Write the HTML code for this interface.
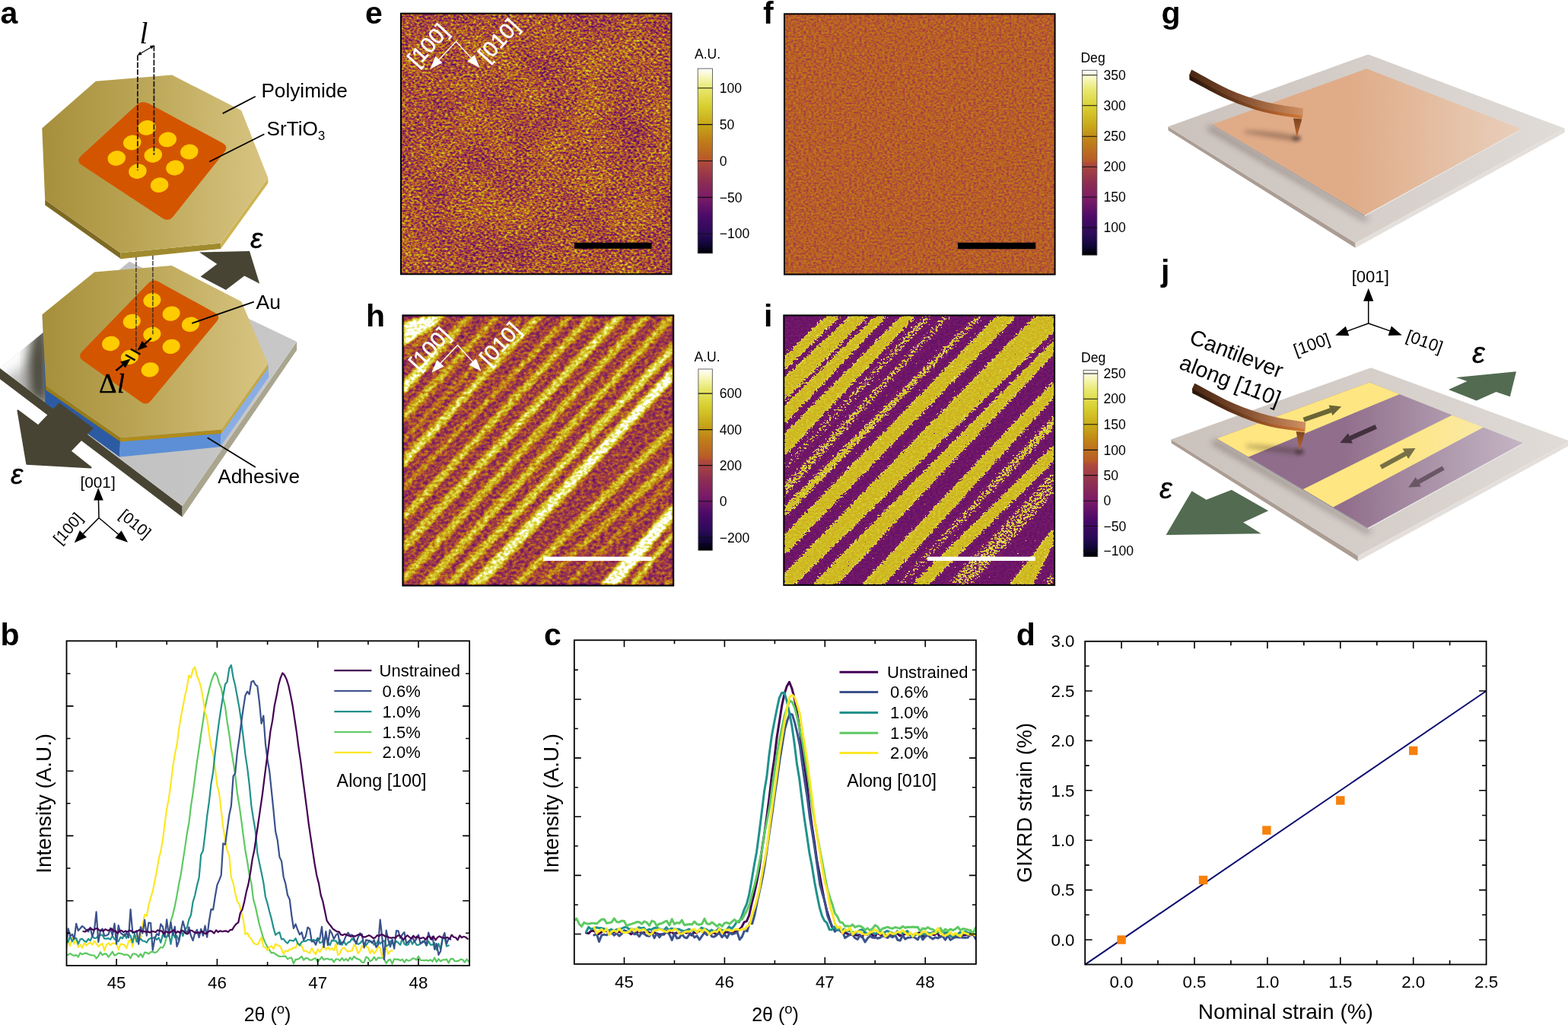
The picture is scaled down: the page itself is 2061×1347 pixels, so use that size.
<!DOCTYPE html>
<html lang="en">
<head>
<meta charset="utf-8">
<title>Figure</title>
<style>
html,body{margin:0;padding:0;background:#fff;}
body{width:2061px;height:1347px;overflow:hidden;font-family:"Liberation Sans",Arial,Helvetica,sans-serif;}
svg{display:block;}
text{fill:#000;}
</style>
</head>
<body>
<svg width="2061" height="1347" viewBox="0 0 2061 1347">
<rect width="2061" height="1347" fill="#fff"/>
<filter id="fe" x="0" y="0" width="100%" height="100%" filterUnits="objectBoundingBox" color-interpolation-filters="sRGB"><feTurbulence type="fractalNoise" baseFrequency="0.27 0.38" numOctaves="2" seed="7"/><feColorMatrix type="matrix" values="1 0 0 0 0  1 0 0 0 0  1 0 0 0 0  0 0 0 0 1" result="a"/><feTurbulence type="fractalNoise" baseFrequency="0.02 0.02" numOctaves="2" seed="18"/><feColorMatrix type="matrix" values="1 0 0 0 0  1 0 0 0 0  1 0 0 0 0  0 0 0 0 1" result="b"/><feComposite in="a" in2="b" operator="arithmetic" k1="0" k2="1.0" k3="0.2" k4="-0.1"/><feComponentTransfer><feFuncR type="table" tableValues="0.000 0.020 0.039 0.059 0.086 0.115 0.144 0.170 0.191 0.212 0.232 0.253 0.274 0.296 0.325 0.355 0.384 0.414 0.443 0.473 0.489 0.503 0.516 0.530 0.543 0.557 0.573 0.594 0.614 0.635 0.656 0.676 0.701 0.723 0.728 0.733 0.737 0.742 0.747 0.751 0.757 0.762 0.768 0.774 0.780 0.786 0.796 0.806 0.816 0.825 0.835 0.845 0.855 0.866 0.876 0.887 0.897 0.908 0.922 0.937 0.952 0.967 0.978 0.989 1.000"/><feFuncG type="table" tableValues="0.000 0.007 0.015 0.022 0.027 0.032 0.036 0.039 0.039 0.039 0.039 0.039 0.039 0.041 0.051 0.061 0.071 0.080 0.090 0.100 0.113 0.126 0.140 0.153 0.167 0.180 0.195 0.212 0.228 0.245 0.262 0.279 0.311 0.361 0.383 0.405 0.427 0.450 0.472 0.494 0.520 0.549 0.578 0.607 0.636 0.664 0.688 0.713 0.737 0.762 0.786 0.811 0.828 0.844 0.859 0.875 0.891 0.906 0.922 0.937 0.952 0.967 0.978 0.989 1.000"/><feFuncB type="table" tableValues="0.000 0.069 0.137 0.206 0.248 0.284 0.319 0.348 0.358 0.369 0.379 0.389 0.400 0.408 0.408 0.408 0.408 0.408 0.408 0.408 0.396 0.381 0.367 0.352 0.337 0.323 0.309 0.296 0.283 0.270 0.257 0.244 0.209 0.154 0.144 0.135 0.125 0.116 0.107 0.097 0.094 0.094 0.094 0.094 0.094 0.097 0.112 0.126 0.141 0.156 0.171 0.185 0.222 0.263 0.305 0.347 0.388 0.430 0.501 0.580 0.659 0.739 0.826 0.913 1.000"/><feFuncA type="linear" slope="0" intercept="1"/></feComponentTransfer></filter>
<rect x="527" y="17.7" width="355.5" height="342.6" fill="#b4641e" filter="url(#fe)"/>
<rect x="527" y="17.7" width="355.5" height="342.6" fill="none" stroke="#000" stroke-width="2"/>
<rect x="755" y="318.8" width="101.6" height="8" fill="#000"/>
<path d="M573.3 82.2L599.5 54.5L622.6 79.9" stroke="#fff" stroke-width="1.3" fill="none"/>
<polygon points="565.3,90.7 572.5,74.1 581.5,82.6" fill="#fff"/>
<polygon points="630.6,88.9 614.5,80.6 623.7,72.2" fill="#fff"/>
<text transform="translate(548.3 89.3) rotate(-47.5)" font-family="Liberation Sans, Arial, Helvetica, sans-serif" font-size="28.6" style="fill:#fff;stroke:#fff;stroke-width:0.5">[100]</text>
<text transform="translate(641.1 82.9) rotate(-47.5)" font-family="Liberation Sans, Arial, Helvetica, sans-serif" font-size="28.6" style="fill:#fff;stroke:#fff;stroke-width:0.5">[010]</text>
<linearGradient id="cbe" x1="0" y1="0" x2="0" y2="1"><stop offset="0.000" stop-color="#ffffff"/><stop offset="0.050" stop-color="#f6f6b8"/><stop offset="0.106" stop-color="#e8e870"/><stop offset="0.200" stop-color="#d8d030"/><stop offset="0.300" stop-color="#c8a818"/><stop offset="0.385" stop-color="#c08018"/><stop offset="0.490" stop-color="#b85a28"/><stop offset="0.505" stop-color="#b04a3c"/><stop offset="0.600" stop-color="#903050"/><stop offset="0.700" stop-color="#7a1a68"/><stop offset="0.800" stop-color="#4a0a68"/><stop offset="0.895" stop-color="#2a0a58"/><stop offset="0.950" stop-color="#100638"/><stop offset="1.000" stop-color="#000000"/></linearGradient>
<rect x="917.2" y="90.1" width="19.3" height="242.8" fill="url(#cbe)" stroke="#444" stroke-width="0.8"/>
<path d="M917.2 115.7H936.5M917.2 163.6H936.5M917.2 211.5H936.5M917.2 259.4H936.5M917.2 307.2H936.5" stroke="#111" stroke-width="1.1" fill="none"/>
<text x="945.7" y="121.9" font-family="Liberation Sans, Arial, Helvetica, sans-serif" font-size="17.6">100</text>
<text x="945.7" y="169.8" font-family="Liberation Sans, Arial, Helvetica, sans-serif" font-size="17.6">50</text>
<text x="945.7" y="217.7" font-family="Liberation Sans, Arial, Helvetica, sans-serif" font-size="17.6">0</text>
<text x="945.7" y="265.6" font-family="Liberation Sans, Arial, Helvetica, sans-serif" font-size="17.6">−50</text>
<text x="945.7" y="313.4" font-family="Liberation Sans, Arial, Helvetica, sans-serif" font-size="17.6">−100</text>
<text x="913" y="76.7" font-family="Liberation Sans, Arial, Helvetica, sans-serif" font-size="17.6">A.U.</text>
<filter id="ff" x="0" y="0" width="100%" height="100%" filterUnits="objectBoundingBox" color-interpolation-filters="sRGB"><feTurbulence type="fractalNoise" baseFrequency="0.30 0.40" numOctaves="2" seed="13" result="n"/><feColorMatrix type="matrix" values="0.3 0 0 0 0.375  0.3 0 0 0 0.375  0.3 0 0 0 0.375  0 0 0 0 1"/><feComponentTransfer><feFuncR type="table" tableValues="0.000 0.020 0.039 0.059 0.086 0.115 0.144 0.170 0.191 0.212 0.232 0.253 0.274 0.296 0.325 0.355 0.384 0.414 0.443 0.473 0.489 0.503 0.516 0.530 0.543 0.557 0.573 0.594 0.614 0.635 0.656 0.676 0.701 0.723 0.728 0.733 0.737 0.742 0.747 0.751 0.757 0.762 0.768 0.774 0.780 0.786 0.796 0.806 0.816 0.825 0.835 0.845 0.855 0.866 0.876 0.887 0.897 0.908 0.922 0.937 0.952 0.967 0.978 0.989 1.000"/><feFuncG type="table" tableValues="0.000 0.007 0.015 0.022 0.027 0.032 0.036 0.039 0.039 0.039 0.039 0.039 0.039 0.041 0.051 0.061 0.071 0.080 0.090 0.100 0.113 0.126 0.140 0.153 0.167 0.180 0.195 0.212 0.228 0.245 0.262 0.279 0.311 0.361 0.383 0.405 0.427 0.450 0.472 0.494 0.520 0.549 0.578 0.607 0.636 0.664 0.688 0.713 0.737 0.762 0.786 0.811 0.828 0.844 0.859 0.875 0.891 0.906 0.922 0.937 0.952 0.967 0.978 0.989 1.000"/><feFuncB type="table" tableValues="0.000 0.069 0.137 0.206 0.248 0.284 0.319 0.348 0.358 0.369 0.379 0.389 0.400 0.408 0.408 0.408 0.408 0.408 0.408 0.408 0.396 0.381 0.367 0.352 0.337 0.323 0.309 0.296 0.283 0.270 0.257 0.244 0.209 0.154 0.144 0.135 0.125 0.116 0.107 0.097 0.094 0.094 0.094 0.094 0.094 0.097 0.112 0.126 0.141 0.156 0.171 0.185 0.222 0.263 0.305 0.347 0.388 0.430 0.501 0.580 0.659 0.739 0.826 0.913 1.000"/><feFuncA type="linear" slope="0" intercept="1"/></feComponentTransfer></filter>
<rect x="1031" y="18.3" width="355.5999999999999" height="342.3" fill="#b4641e" filter="url(#ff)"/>
<rect x="1031" y="18.3" width="355.5999999999999" height="342.3" fill="none" stroke="#000" stroke-width="2"/>
<rect x="1259" y="318.8" width="102.2" height="8.4" fill="#000"/>
<linearGradient id="cbf" x1="0" y1="0" x2="0" y2="1"><stop offset="0.000" stop-color="#ffffff"/><stop offset="0.050" stop-color="#f6f6b8"/><stop offset="0.106" stop-color="#e8e870"/><stop offset="0.200" stop-color="#d8d030"/><stop offset="0.300" stop-color="#c8a818"/><stop offset="0.385" stop-color="#c08018"/><stop offset="0.490" stop-color="#b85a28"/><stop offset="0.505" stop-color="#b04a3c"/><stop offset="0.600" stop-color="#903050"/><stop offset="0.700" stop-color="#7a1a68"/><stop offset="0.800" stop-color="#4a0a68"/><stop offset="0.895" stop-color="#2a0a58"/><stop offset="0.950" stop-color="#100638"/><stop offset="1.000" stop-color="#000000"/></linearGradient>
<rect x="1422.4" y="92.3" width="19.5" height="242.9" fill="url(#cbf)" stroke="#444" stroke-width="0.8"/>
<path d="M1422.4 98.8H1441.9M1422.4 138.8H1441.9M1422.4 179.2H1441.9M1422.4 219.2H1441.9M1422.4 259.0H1441.9M1422.4 299.1H1441.9" stroke="#111" stroke-width="1.1" fill="none"/>
<text x="1450.5" y="105.0" font-family="Liberation Sans, Arial, Helvetica, sans-serif" font-size="17.6">350</text>
<text x="1450.5" y="145.0" font-family="Liberation Sans, Arial, Helvetica, sans-serif" font-size="17.6">300</text>
<text x="1450.5" y="185.4" font-family="Liberation Sans, Arial, Helvetica, sans-serif" font-size="17.6">250</text>
<text x="1450.5" y="225.4" font-family="Liberation Sans, Arial, Helvetica, sans-serif" font-size="17.6">200</text>
<text x="1450.5" y="265.2" font-family="Liberation Sans, Arial, Helvetica, sans-serif" font-size="17.6">150</text>
<text x="1450.5" y="305.3" font-family="Liberation Sans, Arial, Helvetica, sans-serif" font-size="17.6">100</text>
<text x="1420.4" y="81.8" font-family="Liberation Sans, Arial, Helvetica, sans-serif" font-size="17.6">Deg</text>
<linearGradient id="gh2" gradientUnits="userSpaceOnUse" x1="529.4" y1="511.4" x2="618.4" y2="414.4"><stop offset="0" stop-color="#ffffff"/><stop offset="1" stop-color="#ababab"/></linearGradient><linearGradient id="gh3" gradientUnits="userSpaceOnUse" x1="529.4" y1="548.9" x2="654.9" y2="414.4"><stop offset="0" stop-color="#c7c7c7"/><stop offset="1" stop-color="#ababab"/></linearGradient><linearGradient id="gh5" gradientUnits="userSpaceOnUse" x1="529.4" y1="608.4" x2="709.4" y2="414.4"><stop offset="0" stop-color="#e0e0e0"/><stop offset="1" stop-color="#c7c7c7"/></linearGradient><linearGradient id="gh6" gradientUnits="userSpaceOnUse" x1="529.4" y1="642.4" x2="749.4" y2="414.4"><stop offset="0" stop-color="#ababab"/><stop offset="1" stop-color="#c7c7c7"/></linearGradient><linearGradient id="gh8" gradientUnits="userSpaceOnUse" x1="529.4" y1="720.4" x2="815.4" y2="414.4"><stop offset="0" stop-color="#c7c7c7"/><stop offset="1" stop-color="#e0e0e0"/></linearGradient><linearGradient id="gh11" gradientUnits="userSpaceOnUse" x1="588.2" y1="769.6" x2="885.2" y2="457.1"><stop offset="0" stop-color="#c7c7c7"/><stop offset="1" stop-color="#e0e0e0"/></linearGradient><linearGradient id="gh12" gradientUnits="userSpaceOnUse" x1="624.2" y1="769.6" x2="885.2" y2="490.6"><stop offset="0" stop-color="#e0e0e0"/><stop offset="1" stop-color="#ffffff"/></linearGradient><linearGradient id="gh14" gradientUnits="userSpaceOnUse" x1="708.7" y1="769.6" x2="885.2" y2="605.6"><stop offset="0" stop-color="#ababab"/><stop offset="1" stop-color="#c7c7c7"/></linearGradient>
<clipPath id="cliph"><rect x="529.4" y="414.4" width="355.8" height="355.2"/></clipPath>
<filter id="fh" x="529.4" y="414.4" width="355.8" height="355.2" filterUnits="userSpaceOnUse" color-interpolation-filters="sRGB"><feGaussianBlur in="SourceGraphic" stdDeviation="2.0" result="b"/><feTurbulence type="fractalNoise" baseFrequency="0.19 0.27" numOctaves="3" seed="9"/><feColorMatrix type="matrix" values="1 0 0 0 0  1 0 0 0 0  1 0 0 0 0  0 0 0 0 1" result="n"/><feComposite in="b" in2="n" operator="arithmetic" k1="0" k2="1" k3="0.62" k4="-0.31" result="v"/><feColorMatrix in="v" type="matrix" values="1 0 0 0 0  1 0 0 0 0  1 0 0 0 0  0 0 0 0 1"/><feComponentTransfer><feFuncR type="table" tableValues="0.000 0.020 0.039 0.059 0.086 0.115 0.144 0.170 0.191 0.212 0.232 0.253 0.274 0.296 0.325 0.355 0.384 0.414 0.443 0.473 0.489 0.503 0.516 0.530 0.543 0.557 0.573 0.594 0.614 0.635 0.656 0.676 0.701 0.723 0.728 0.733 0.737 0.742 0.747 0.751 0.757 0.762 0.768 0.774 0.780 0.786 0.796 0.806 0.816 0.825 0.835 0.845 0.855 0.866 0.876 0.887 0.897 0.908 0.922 0.937 0.952 0.967 0.978 0.989 1.000"/><feFuncG type="table" tableValues="0.000 0.007 0.015 0.022 0.027 0.032 0.036 0.039 0.039 0.039 0.039 0.039 0.039 0.041 0.051 0.061 0.071 0.080 0.090 0.100 0.113 0.126 0.140 0.153 0.167 0.180 0.195 0.212 0.228 0.245 0.262 0.279 0.311 0.361 0.383 0.405 0.427 0.450 0.472 0.494 0.520 0.549 0.578 0.607 0.636 0.664 0.688 0.713 0.737 0.762 0.786 0.811 0.828 0.844 0.859 0.875 0.891 0.906 0.922 0.937 0.952 0.967 0.978 0.989 1.000"/><feFuncB type="table" tableValues="0.000 0.069 0.137 0.206 0.248 0.284 0.319 0.348 0.358 0.369 0.379 0.389 0.400 0.408 0.408 0.408 0.408 0.408 0.408 0.408 0.396 0.381 0.367 0.352 0.337 0.323 0.309 0.296 0.283 0.270 0.257 0.244 0.209 0.154 0.144 0.135 0.125 0.116 0.107 0.097 0.094 0.094 0.094 0.094 0.094 0.097 0.112 0.126 0.141 0.156 0.171 0.185 0.222 0.263 0.305 0.347 0.388 0.430 0.501 0.580 0.659 0.739 0.826 0.913 1.000"/><feFuncA type="linear" slope="0" intercept="1"/></feComponentTransfer></filter>
<g filter="url(#fh)"><g clip-path="url(#cliph)"><rect x="524.4" y="409.4" width="365.8" height="365.2" fill="#717171"/><polygon points="557.7,366.1 481.1,442.7 622.2,391.5 496.6,479.3" fill="#ffffff"/><polygon points="501.0,496.2 611.7,386.2 620.1,386.5 500.7,502.7" fill="#999999"/><polygon points="502.0,531.7 639.7,385.3 651.3,384.6 502.7,550.0" fill="url(#gh2)"/><polygon points="501.9,570.2 676.6,385.3 687.8,385.0 502.3,586.1" fill="url(#gh3)"/><polygon points="501.8,605.0 710.6,385.4 717.4,385.4 501.8,611.8" fill="#ababab"/><polygon points="502.1,629.5 729.9,385.1 743.3,385.0 502.3,645.9" fill="url(#gh5)"/><polygon points="501.6,667.1 773.1,385.6 781.3,385.6 501.6,675.3" fill="url(#gh6)"/><polygon points="502.1,703.1 799.6,385.2 811.8,385.1 502.2,718.2" fill="#c7c7c7"/><polygon points="502.0,741.4 836.0,385.2 849.5,385.1 502.1,757.8" fill="url(#gh8)"/><polygon points="502.2,784.1 871.4,385.0 883.6,385.0 502.3,798.4" fill="#c7c7c7"/><polygon points="523.6,799.0 905.4,385.0 912.2,390.2 538.7,799.1" fill="#c7c7c7"/><polygon points="553.9,798.6 912.7,420.3 912.8,436.0 567.4,798.6" fill="url(#gh11)"/><polygon points="585.9,798.7 912.6,452.0 912.4,470.8 607.9,798.9" fill="url(#gh12)"/><polygon points="642.8,797.9 913.5,526.8 913.7,542.0 654.9,797.7" fill="#c7c7c7"/><polygon points="676.0,797.2 914.2,570.5 914.8,586.2 682.8,796.5" fill="url(#gh14)"/><polygon points="713.5,797.9 913.5,598.3 913.7,606.6 720.1,797.7" fill="#ababab"/><polygon points="761.4,799.5 911.8,630.1 911.0,652.6 786.7,800.2" fill="#ffffff"/><polygon points="800.9,800.7 910.4,665.8 910.3,675.2 809.2,800.8" fill="#e0e0e0"/><polygon points="833.2,789.2 920.1,740.4 924.9,775.1 840.6,764.7" fill="#c7c7c7"/></g></g>
<rect x="529.4" y="414.4" width="355.8" height="355.2" fill="none" stroke="#000" stroke-width="2"/>
<rect x="714.1" y="731.6" width="142.6" height="5.4" fill="#fff"/>
<path d="M575.3 481.2L601.5 453.5L624.6 478.9" stroke="#fff" stroke-width="1.3" fill="none"/>
<polygon points="567.3,489.7 574.5,473.1 583.5,481.6" fill="#fff"/>
<polygon points="632.6,487.9 616.5,479.6 625.7,471.2" fill="#fff"/>
<text transform="translate(550.3 488.3) rotate(-47.5)" font-family="Liberation Sans, Arial, Helvetica, sans-serif" font-size="28.6" style="fill:#fff;stroke:#fff;stroke-width:0.5">[100]</text>
<text transform="translate(643.1 481.9) rotate(-47.5)" font-family="Liberation Sans, Arial, Helvetica, sans-serif" font-size="28.6" style="fill:#fff;stroke:#fff;stroke-width:0.5">[010]</text>
<linearGradient id="cbh" x1="0" y1="0" x2="0" y2="1"><stop offset="0.000" stop-color="#ffffff"/><stop offset="0.050" stop-color="#f6f6b8"/><stop offset="0.106" stop-color="#e8e870"/><stop offset="0.200" stop-color="#d8d030"/><stop offset="0.300" stop-color="#c8a818"/><stop offset="0.385" stop-color="#c08018"/><stop offset="0.490" stop-color="#b85a28"/><stop offset="0.505" stop-color="#b04a3c"/><stop offset="0.600" stop-color="#903050"/><stop offset="0.700" stop-color="#7a1a68"/><stop offset="0.800" stop-color="#4a0a68"/><stop offset="0.895" stop-color="#2a0a58"/><stop offset="0.950" stop-color="#100638"/><stop offset="1.000" stop-color="#000000"/></linearGradient>
<rect x="917.9" y="485" width="18.4" height="238.2" fill="url(#cbh)" stroke="#444" stroke-width="0.8"/>
<path d="M917.9 517.1H936.3M917.9 564.6H936.3M917.9 611.6H936.3M917.9 658.8H936.3M917.9 706.3H936.3" stroke="#111" stroke-width="1.1" fill="none"/>
<text x="945.7" y="523.3" font-family="Liberation Sans, Arial, Helvetica, sans-serif" font-size="17.6">600</text>
<text x="945.7" y="570.8" font-family="Liberation Sans, Arial, Helvetica, sans-serif" font-size="17.6">400</text>
<text x="945.7" y="617.8" font-family="Liberation Sans, Arial, Helvetica, sans-serif" font-size="17.6">200</text>
<text x="945.7" y="665.0" font-family="Liberation Sans, Arial, Helvetica, sans-serif" font-size="17.6">0</text>
<text x="945.7" y="712.5" font-family="Liberation Sans, Arial, Helvetica, sans-serif" font-size="17.6">−200</text>
<text x="912.5" y="474.6" font-family="Liberation Sans, Arial, Helvetica, sans-serif" font-size="17.6">A.U.</text>
<linearGradient id="gi4" gradientUnits="userSpaceOnUse" x1="1030.3" y1="615.9" x2="1220.8" y2="414.4"><stop offset="0" stop-color="#666666"/><stop offset="1" stop-color="#858585"/></linearGradient><linearGradient id="gi5" gradientUnits="userSpaceOnUse" x1="1030.3" y1="644.9" x2="1245.8" y2="414.4"><stop offset="0" stop-color="#8c8c8c"/><stop offset="1" stop-color="#808080"/></linearGradient><linearGradient id="gi6" gradientUnits="userSpaceOnUse" x1="1030.3" y1="673.4" x2="1288.3" y2="414.4"><stop offset="0" stop-color="#bfbfbf"/><stop offset="1" stop-color="#858585"/></linearGradient><linearGradient id="gi11" gradientUnits="userSpaceOnUse" x1="1181.8" y1="768.9" x2="1386.1" y2="553.1"><stop offset="0" stop-color="#666666"/><stop offset="1" stop-color="#999999"/></linearGradient><linearGradient id="gi15" gradientUnits="userSpaceOnUse" x1="1375.8" y1="768.9" x2="1386.1" y2="760.1"><stop offset="0" stop-color="#8c8c8c"/><stop offset="1" stop-color="#858585"/></linearGradient>
<clipPath id="clipi"><rect x="1030.3" y="414.4" width="355.8" height="354.5"/></clipPath>
<filter id="fi" x="1030.3" y="414.4" width="355.8" height="354.5" filterUnits="userSpaceOnUse" color-interpolation-filters="sRGB"><feGaussianBlur in="SourceGraphic" stdDeviation="2.2" result="b"/><feTurbulence type="fractalNoise" baseFrequency="0.30 0.42" numOctaves="2" seed="5"/><feColorMatrix type="matrix" values="1 0 0 0 0  1 0 0 0 0  1 0 0 0 0  0 0 0 0 1" result="n"/><feComposite in="b" in2="n" operator="arithmetic" k1="0" k2="1" k3="1.1" k4="-0.55" result="v"/><feColorMatrix in="v" type="matrix" values="1 0 0 0 0  1 0 0 0 0  1 0 0 0 0  0 0 0 0 1"/><feComponentTransfer><feFuncR type="table" tableValues="0.394 0.397 0.399 0.402 0.405 0.408 0.411 0.414 0.417 0.420 0.422 0.425 0.428 0.431 0.434 0.437 0.440 0.442 0.445 0.448 0.451 0.454 0.457 0.460 0.462 0.465 0.468 0.471 0.474 0.477 0.479 0.480 0.482 0.483 0.484 0.486 0.487 0.488 0.489 0.491 0.492 0.493 0.495 0.496 0.497 0.499 0.504 0.431 0.328 0.244 0.993 0.948 0.898 0.859 0.847 0.846 0.845 0.844 0.843 0.841 0.840 0.839 0.838 0.837 0.836 0.835 0.834 0.833 0.832 0.831 0.830 0.829 0.828 0.827 0.826 0.825 0.824 0.823 0.822 0.821 0.820 0.819 0.818 0.817 0.816 0.815 0.814 0.813 0.812 0.811 0.810 0.809 0.808 0.807 0.806 0.805 0.804 0.803 0.802 0.801 0.800"/><feFuncG type="table" tableValues="0.074 0.075 0.076 0.077 0.078 0.078 0.079 0.080 0.081 0.082 0.083 0.084 0.085 0.086 0.087 0.088 0.089 0.090 0.091 0.092 0.093 0.094 0.095 0.096 0.097 0.098 0.099 0.100 0.100 0.101 0.103 0.104 0.105 0.106 0.108 0.109 0.110 0.112 0.113 0.114 0.116 0.117 0.118 0.120 0.121 0.122 0.128 0.086 0.052 0.039 0.993 0.948 0.891 0.834 0.814 0.812 0.809 0.807 0.804 0.802 0.799 0.797 0.794 0.792 0.789 0.787 0.784 0.782 0.779 0.776 0.774 0.771 0.769 0.766 0.764 0.761 0.759 0.756 0.754 0.751 0.749 0.746 0.744 0.741 0.739 0.736 0.733 0.731 0.728 0.726 0.723 0.721 0.718 0.716 0.713 0.711 0.708 0.706 0.703 0.701 0.698"/><feFuncB type="table" tableValues="0.408 0.408 0.408 0.408 0.408 0.408 0.408 0.408 0.408 0.408 0.408 0.408 0.408 0.408 0.408 0.408 0.408 0.408 0.408 0.408 0.408 0.408 0.408 0.408 0.408 0.408 0.408 0.408 0.408 0.408 0.407 0.406 0.404 0.403 0.402 0.400 0.399 0.397 0.396 0.394 0.393 0.391 0.390 0.389 0.387 0.386 0.380 0.408 0.408 0.385 0.944 0.635 0.390 0.238 0.187 0.186 0.184 0.183 0.181 0.180 0.178 0.177 0.175 0.174 0.172 0.171 0.169 0.168 0.166 0.165 0.163 0.162 0.160 0.159 0.157 0.156 0.154 0.153 0.151 0.150 0.148 0.146 0.145 0.143 0.142 0.140 0.139 0.137 0.136 0.134 0.133 0.131 0.130 0.128 0.127 0.125 0.124 0.122 0.121 0.119 0.118"/><feFuncA type="linear" slope="0" intercept="1"/></feComponentTransfer></filter>
<g filter="url(#fi)"><g clip-path="url(#clipi)"><rect x="1025.3" y="409.4" width="365.8" height="364.5" fill="#1f1f1f"/><polygon points="1001.8,497.4 1114.8,386.4 1135.1,386.7 1001.5,515.1" fill="#e0e0e0"/><polygon points="1001.0,523.7 1147.6,387.1 1170.5,386.0 1002.1,555.8" fill="#e0e0e0"/><polygon points="1001.8,561.4 1179.8,386.4 1194.9,385.4 1002.7,587.4" fill="#e0e0e0"/><polygon points="1002.1,598.8 1213.5,386.0 1231.6,385.2 1003.0,629.6" fill="#e0e0e0"/><polygon points="1002.9,638.6 1240.7,385.2 1255.9,385.4 1002.7,651.4" fill="url(#gi4)"/><polygon points="1002.7,664.4 1267.9,385.4 1278.4,385.0 1003.2,683.8" fill="url(#gi5)"/><polygon points="1002.0,693.6 1310.6,386.2 1322.4,386.0 1002.2,709.8" fill="url(#gi6)"/><polygon points="1002.5,732.1 1338.1,385.7 1365.2,385.7 1002.4,759.1" fill="#e0e0e0"/><polygon points="1002.4,783.1 1389.2,385.7 1414.7,406.7 1015.2,796.8" fill="#e0e0e0"/><polygon points="1038.7,797.4 1414.2,417.1 1413.5,435.5 1072.4,798.0" fill="#e0e0e0"/><polygon points="1104.3,798.0 1413.6,470.5 1413.0,492.0 1134.9,798.5" fill="#e0e0e0"/><polygon points="1148.5,798.1 1413.4,514.4 1413.8,533.8 1160.1,797.7" fill="url(#gi11)"/><polygon points="1169.3,797.0 1414.6,555.5 1414.6,577.6 1191.3,796.9" fill="#e0e0e0"/><polygon points="1215.4,798.0 1413.5,587.5 1413.0,619.0 1249.9,798.5" fill="#808080"/><polygon points="1301.0,800.3 1410.9,661.2 1403.8,675.7 1340.1,804.8" fill="#e0e0e0"/><polygon points="1337.0,795.6 1415.9,724.9 1425.1,759.6 1345.8,777.9" fill="url(#gi15)"/></g></g>
<rect x="1030.3" y="414.4" width="355.8" height="354.5" fill="none" stroke="#000" stroke-width="2"/>
<rect x="1218.9" y="731.6" width="142" height="5.4" fill="#fff"/>
<linearGradient id="cbi" x1="0" y1="0" x2="0" y2="1"><stop offset="0.000" stop-color="#ffffff"/><stop offset="0.050" stop-color="#f6f6b8"/><stop offset="0.106" stop-color="#e8e870"/><stop offset="0.200" stop-color="#d8d030"/><stop offset="0.300" stop-color="#c8a818"/><stop offset="0.385" stop-color="#c08018"/><stop offset="0.490" stop-color="#b85a28"/><stop offset="0.505" stop-color="#b04a3c"/><stop offset="0.600" stop-color="#903050"/><stop offset="0.700" stop-color="#7a1a68"/><stop offset="0.800" stop-color="#4a0a68"/><stop offset="0.895" stop-color="#2a0a58"/><stop offset="0.950" stop-color="#100638"/><stop offset="1.000" stop-color="#000000"/></linearGradient>
<rect x="1424.1" y="486.5" width="18.7" height="245.1" fill="url(#cbi)" stroke="#444" stroke-width="0.8"/>
<path d="M1424.1 491.0H1442.8M1424.1 524.2H1442.8M1424.1 557.8H1442.8M1424.1 591.4H1442.8M1424.1 624.6H1442.8M1424.1 658.2H1442.8M1424.1 691.5H1442.8M1424.1 724.1H1442.8" stroke="#111" stroke-width="1.1" fill="none"/>
<text x="1450.5" y="497.2" font-family="Liberation Sans, Arial, Helvetica, sans-serif" font-size="17.6">250</text>
<text x="1450.5" y="530.4" font-family="Liberation Sans, Arial, Helvetica, sans-serif" font-size="17.6">200</text>
<text x="1450.5" y="564.0" font-family="Liberation Sans, Arial, Helvetica, sans-serif" font-size="17.6">150</text>
<text x="1450.5" y="597.6" font-family="Liberation Sans, Arial, Helvetica, sans-serif" font-size="17.6">100</text>
<text x="1450.5" y="630.8" font-family="Liberation Sans, Arial, Helvetica, sans-serif" font-size="17.6">50</text>
<text x="1450.5" y="664.4" font-family="Liberation Sans, Arial, Helvetica, sans-serif" font-size="17.6">0</text>
<text x="1450.5" y="697.7" font-family="Liberation Sans, Arial, Helvetica, sans-serif" font-size="17.6">−50</text>
<text x="1450.5" y="730.3" font-family="Liberation Sans, Arial, Helvetica, sans-serif" font-size="17.6">−100</text>
<text x="1421.1" y="476.1" font-family="Liberation Sans, Arial, Helvetica, sans-serif" font-size="17.6">Deg</text>
<defs>
<linearGradient id="pi1" gradientUnits="userSpaceOnUse" x1="55" y1="0" x2="352" y2="0"><stop offset="0" stop-color="#a68f3b"/><stop offset="0.5" stop-color="#bea95a"/><stop offset="1" stop-color="#d8c582"/></linearGradient>
<linearGradient id="plateg" gradientUnits="userSpaceOnUse" x1="0" y1="0" x2="390" y2="0"><stop offset="0" stop-color="#bdbdbd"/><stop offset="1" stop-color="#c8c8c8"/></linearGradient>
<filter id="blur8" x="-50%" y="-50%" width="200%" height="200%"><feGaussianBlur stdDeviation="8"/></filter>
<filter id="blur5" x="-50%" y="-50%" width="200%" height="200%"><feGaussianBlur stdDeviation="5"/></filter>
<clipPath id="plateclip"><polygon points="0,483.7 170,343.8 390.1,449.1 239.6,665"/></clipPath>
</defs>
<polygon points="0.0,483.7 239.6,665.0 239.6,679.5 0.0,498.2" fill="#484434"/>
<polygon points="239.6,665.0 390.1,449.1 390.1,460.1 239.6,679.5" fill="#a9a58f"/>
<polygon points="0.0,483.7 170.0,343.8 390.1,449.1 239.6,665.0" fill="url(#plateg)"/>
<g clip-path="url(#plateclip)">
<polygon points="-30,455 150,322 142,366 72,416 46,462 30,482 -10,508" fill="#fff" opacity="0.97" filter="url(#blur8)"/>
<polygon points="62,400 62,535 40,520 38,470 44,420" fill="#3a372c" opacity="0.95" filter="url(#blur8)"/>
</g>
<polygon points="262.0,331.6 328.0,330.0 341.2,372.7 321.2,362.6 296.9,381.1 263.6,363.6 285.3,347.1" fill="#484434"/>
<polygon points="55.5,413.3 60.2,507.3 59.2,529.5 56.5,423.3" fill="#2d5aa0"/>
<polygon points="60.2,507.3 158.2,575.3 157.2,600.5 59.2,529.5" fill="#2d5ba3"/>
<polygon points="158.2,575.3 291.1,564.6 289.6,587.3 157.2,600.5" fill="#5d8fd6"/>
<polygon points="291.1,564.6 352.3,478.2 353.3,495.4 289.6,587.3" fill="#8aaee3"/>
<polygon points="60.2,507.3 158.2,575.3 158.2,580.5 60.2,512.5" fill="#9a7d14"/>
<polygon points="158.2,575.3 291.1,564.6 291.1,569.8 158.2,580.5" fill="#b08c1c"/>
<polygon points="291.1,564.6 352.3,478.2 352.3,483.4 291.1,569.8" fill="#c8a83a"/>
<polygon points="124.2,357.4 225.7,349.1 317.3,396.2 352.3,478.2 291.1,564.6 158.2,575.3 60.2,507.3 55.5,413.3" fill="url(#pi1)"/>
<path d="M194.6 372.5Q200.9 366.0 208.8 370.4L282.7 411.2Q290.6 415.6 284.8 422.5L198.4 526.5Q192.6 533.4 185.3 528.2L108.9 473.8Q101.6 468.6 107.9 462.1Z" fill="#d45500"/>
<ellipse cx="199.9" cy="394.7" rx="11.6" ry="9.6" fill="#ffcc00" transform="rotate(-12 199.9 394.7)"/>
<ellipse cx="225.1" cy="412.1" rx="11.6" ry="9.6" fill="#ffcc00" transform="rotate(-12 225.1 412.1)"/>
<ellipse cx="173.3" cy="422.4" rx="11.6" ry="9.6" fill="#ffcc00" transform="rotate(-12 173.3 422.4)"/>
<ellipse cx="250.4" cy="426.3" rx="11.6" ry="9.6" fill="#ffcc00" transform="rotate(-12 250.4 426.3)"/>
<ellipse cx="199.9" cy="439.3" rx="11.6" ry="9.6" fill="#ffcc00" transform="rotate(-12 199.9 439.3)"/>
<ellipse cx="145.6" cy="451.5" rx="11.6" ry="9.6" fill="#ffcc00" transform="rotate(-12 145.6 451.5)"/>
<ellipse cx="225.1" cy="455.4" rx="11.6" ry="9.6" fill="#ffcc00" transform="rotate(-12 225.1 455.4)"/>
<ellipse cx="170.4" cy="469.4" rx="11.6" ry="9.6" fill="#ffcc00" transform="rotate(-12 170.4 469.4)"/>
<ellipse cx="197.2" cy="485.9" rx="11.6" ry="9.6" fill="#ffcc00" transform="rotate(-12 197.2 485.9)"/>
<polygon points="23.4,539.4 50.1,559.4 78.0,530.4 121.4,562.7 92.4,592.8 119.6,614.4 35.3,609.8" fill="#484434" stroke="#484434" stroke-width="2" stroke-linejoin="round"/>
<path d="M178.9 336.4V461.6M200.9 335.5V439.3" stroke="#2a2a2a" stroke-width="1.3" stroke-dasharray="6 1.6" fill="none"/>
<line x1="198.9" y1="444.3" x2="188.4" y2="453.7" stroke="#000" stroke-width="2.4"/><polygon points="180.6,460.6 186.8,448.1 193.8,455.8" fill="#000"/>
<line x1="152.4" y1="487.0" x2="163.5" y2="478.0" stroke="#000" stroke-width="2.4"/><polygon points="171.6,471.4 164.8,483.6 158.2,475.6" fill="#000"/>
<path d="M171.8 458.8L184.4 465.6M165 466.2L177.6 473.4" stroke="#000" stroke-width="2.4" fill="none"/>
<text x="130" y="516" font-family="Liberation Serif, Times New Roman, serif" font-size="36.5" stroke="#000" stroke-width="0.4">Δ<tspan font-style="italic" dx="0.5" font-size="35.5">l</tspan></text>
<line x1="333.8" y1="396.6" x2="252.3" y2="424.8" stroke="#000" stroke-width="1.8"/>
<text x="336.5" y="406.3" font-family="Liberation Sans, Arial, Helvetica, sans-serif" font-size="26.5">Au</text>
<line x1="272.7" y1="575.3" x2="335.8" y2="614.1" stroke="#000" stroke-width="1.8"/>
<text x="286.3" y="635.4" font-family="Liberation Sans, Arial, Helvetica, sans-serif" font-size="26.2">Adhesive</text>
<polygon points="59.2,262.6 158.2,332.2 159.0,340.2 59.2,269.6" fill="#7d6a22"/>
<polygon points="158.2,332.2 290.2,319.4 290.2,326.9 159.0,340.2" fill="#a08a2e"/>
<polygon points="290.2,319.4 352.3,233.8 352.3,240.8 290.2,326.9" fill="#cdb455"/>
<polygon points="125.8,106.8 226.1,98.6 317.3,145.2 352.3,233.8 290.2,319.4 158.2,332.2 59.2,262.6 55.3,168.5" fill="url(#pi1)"/>
<path d="M179.2 138.2Q186.6 131.4 195.4 136.1L292.2 187.7Q301.0 192.4 294.8 200.2L227.8 284.2Q221.6 292.0 213.2 286.5L107.6 217.1Q99.2 211.6 106.6 204.8Z" fill="#d45500"/>
<ellipse cx="193.1" cy="167.9" rx="11.8" ry="9.8" fill="#ffcc00" transform="rotate(-10 193.1 167.9)"/>
<ellipse cx="173.7" cy="187.3" rx="11.8" ry="9.8" fill="#ffcc00" transform="rotate(-10 173.7 187.3)"/>
<ellipse cx="220.3" cy="183.4" rx="11.8" ry="9.8" fill="#ffcc00" transform="rotate(-10 220.3 183.4)"/>
<ellipse cx="153.3" cy="207.9" rx="11.8" ry="9.8" fill="#ffcc00" transform="rotate(-10 153.3 207.9)"/>
<ellipse cx="201.3" cy="203.8" rx="11.8" ry="9.8" fill="#ffcc00" transform="rotate(-10 201.3 203.8)"/>
<ellipse cx="248.8" cy="199.5" rx="11.8" ry="9.8" fill="#ffcc00" transform="rotate(-10 248.8 199.5)"/>
<ellipse cx="180.9" cy="225.1" rx="11.8" ry="9.8" fill="#ffcc00" transform="rotate(-10 180.9 225.1)"/>
<ellipse cx="230" cy="220.5" rx="11.8" ry="9.8" fill="#ffcc00" transform="rotate(-10 230 220.5)"/>
<ellipse cx="209.6" cy="243.2" rx="11.8" ry="9.8" fill="#ffcc00" transform="rotate(-10 209.6 243.2)"/>
<path d="M180.9 72.4V223.8M202.4 59.8V203.6" stroke="#222" stroke-width="1.9" stroke-dasharray="7.4 2" fill="none"/>
<line x1="182.5" y1="71.5" x2="201" y2="60.7" stroke="#000" stroke-width="1.2"/>
<polygon points="180.6,72.7 184.1,67.8 186.6,72.0" fill="#000"/>
<polygon points="202.8,59.6 199.3,64.4 196.8,60.3" fill="#000"/>
<text x="183.5" y="56.5" font-family="Liberation Serif, Times New Roman, serif" font-size="39" font-style="italic">l</text>
<line x1="335.8" y1="126.7" x2="292.7" y2="149.1" stroke="#000" stroke-width="1.8"/>
<text x="343.4" y="127.8" font-family="Liberation Sans, Arial, Helvetica, sans-serif" font-size="26.2">Polyimide</text>
<line x1="347.4" y1="176.2" x2="275.2" y2="212.5" stroke="#000" stroke-width="1.8"/>
<text x="350.6" y="178.2" font-family="Liberation Sans, Arial, Helvetica, sans-serif" font-size="26.2">SrTiO<tspan dy="5.5" font-size="16.5">3</tspan></text>
<text x="329" y="326" font-family="Liberation Sans, Arial, Helvetica, sans-serif" font-size="37" font-style="italic" stroke="#000" stroke-width="0.35">ε</text>
<text x="14" y="636" font-family="Liberation Sans, Arial, Helvetica, sans-serif" font-size="37" font-style="italic" stroke="#000" stroke-width="0.35">ε</text>
<line x1="130.0" y1="680.5" x2="129.4" y2="654.2" stroke="#000" stroke-width="1.5"/><polygon points="129.1,641.0 135.8,657.4 123.2,657.6" fill="#000"/>
<line x1="130.0" y1="680.5" x2="107.0" y2="703.9" stroke="#000" stroke-width="1.5"/><polygon points="97.8,713.3 104.9,697.1 113.9,705.9" fill="#000"/>
<line x1="130.0" y1="680.5" x2="158.0" y2="704.2" stroke="#000" stroke-width="1.5"/><polygon points="168.1,712.7 151.4,706.9 159.6,697.2" fill="#000"/>
<text x="128.6" y="640.5" font-family="Liberation Sans, Arial, Helvetica, sans-serif" font-size="20.8" text-anchor="middle">[001]</text>
<text transform="translate(79.5 716.5) rotate(-49)" font-family="Liberation Sans, Arial, Helvetica, sans-serif" font-size="20.8">[100]</text>
<text transform="translate(155.5 679) rotate(40)" font-family="Liberation Sans, Arial, Helvetica, sans-serif" font-size="20.8">[010]</text>
<defs><filter id="blur2" x="-50%" y="-50%" width="200%" height="200%"><feGaussianBlur stdDeviation="2"/></filter><filter id="blur3" x="-50%" y="-100%" width="200%" height="300%"><feGaussianBlur stdDeviation="3"/></filter><filter id="blur4" x="-50%" y="-50%" width="200%" height="200%"><feGaussianBlur stdDeviation="4"/></filter></defs>
<linearGradient id="gpl" gradientUnits="userSpaceOnUse" x1="1535.2" y1="0" x2="2056.8" y2="0"><stop offset="0" stop-color="#cbc2bc"/><stop offset="0.5" stop-color="#d5cec9"/><stop offset="1" stop-color="#e0dcd8"/></linearGradient>
<polygon points="1535.2,166.6 1781.6,319.2 1781.6,325.7 1535.7,171.6" fill="#ab9d93"/>
<polygon points="1781.6,319.2 2056.8,168.8 2056.8,174.0 1781.6,325.7" fill="#e4dfdb"/>
<polygon points="1535.2,166.6 1798.4,71.4 2056.8,168.8 1781.6,319.2" fill="url(#gpl)"/>
<polygon points="1591.4,164.6 1792.6,283.8 1799.6,285.8 1793.6,290.8 1585.4,169.6" fill="#5a4a44" opacity="0.45" filter="url(#blur4)"/>
<linearGradient id="gfilm" gradientUnits="userSpaceOnUse" x1="1593" y1="0" x2="2000" y2="0"><stop offset="0" stop-color="#e0ab87"/><stop offset="0.45" stop-color="#e0ac88"/><stop offset="1" stop-color="#e9cfbc"/></linearGradient>
<polygon points="1593.4,163.6 1793.6,282.8 1793.6,284.2 1593.4,164.8" fill="#9ea2a8"/>
<polygon points="1793.6,282.8 2000.0,169.4 2000.0,170.6 1793.6,284.2" fill="#ececec"/>
<polygon points="1593.4,163.6 1796.2,90.3 2000.0,169.4 1793.6,282.8" fill="url(#gfilm)"/>
<linearGradient id="cgt" gradientUnits="userSpaceOnUse" x1="1566.2" y1="0" x2="1712.9" y2="0"><stop offset="0" stop-color="#4a2814"/><stop offset="0.35" stop-color="#744428"/><stop offset="0.7" stop-color="#a86c44"/><stop offset="1" stop-color="#cf8f62"/></linearGradient>
<linearGradient id="cgs" gradientUnits="userSpaceOnUse" x1="1566.2" y1="0" x2="1712.9" y2="0"><stop offset="0" stop-color="#2a140a"/><stop offset="0.4" stop-color="#6a3a1c"/><stop offset="0.75" stop-color="#b0602c"/><stop offset="1" stop-color="#d07a3c"/></linearGradient>
<linearGradient id="cgp" x1="0" y1="0" x2="0" y2="1"><stop offset="0" stop-color="#7a4420"/><stop offset="1" stop-color="#c06a30"/></linearGradient>
<g filter="url(#blur3)" opacity="0.42"><path d="M1636.0 171.5Q1670.1 172.5 1700.2 178.3L1708.2 181.3L1704.2 185.3Q1670.1 180.5 1636.0 174.5Z" fill="#3a2a20"/></g>
<ellipse cx="1704.2" cy="181.8" rx="6" ry="3.6" fill="#2e2420" opacity="0.5" filter="url(#blur2)"/>
<polygon points="1700.0,155.6 1711.3,156.4 1704.5,180.6" fill="url(#cgp)"/>
<path d="M1563.2 97.7C1580.1 106.8 1597.5 117.4 1613.8 124.9C1630.1 132.4 1644.9 138.2 1661.3 142.6C1677.7 147.0 1695.3 148.5 1712.3 151.4L1710.9 156.2C1694.4 153.2 1677.5 151.5 1661.3 147.3C1645.1 143.1 1630.1 137.9 1613.8 130.8C1597.5 123.7 1580.3 113.5 1563.5 104.9Z" fill="url(#cgs)"/>
<path d="M1566.2 91.6C1582.5 100.2 1599.0 110.4 1615.1 117.4C1631.2 124.4 1646.4 129.6 1662.7 133.8C1679.0 138.0 1696.2 139.7 1712.9 142.6L1712.3 152.1C1695.3 149.2 1677.7 147.7 1661.3 143.3C1644.9 138.9 1630.1 133.1 1613.8 125.6C1597.5 118.1 1580.1 107.5 1563.2 98.4Z" fill="url(#cgt)"/>
<linearGradient id="jpl" gradientUnits="userSpaceOnUse" x1="1539.3" y1="0" x2="2064" y2="0"><stop offset="0" stop-color="#cbc2bc"/><stop offset="0.5" stop-color="#d5cec9"/><stop offset="1" stop-color="#e0dcd8"/></linearGradient>
<polygon points="1539.3,577.6 1784.9,730.4 1784.9,737.4 1539.8,582.6" fill="#ab9d93"/>
<polygon points="1784.9,730.4 2064.0,579.8 2064.0,584.8 1784.9,737.4" fill="#e4dfdb"/>
<polygon points="1539.3,577.6 1802.1,483.2 2064.0,579.8 1784.9,730.4" fill="url(#jpl)"/>
<polygon points="1597.2,577.2 1796.6,694.7 1803.6,696.7 1797.6,701.7 1591.2,582.2" fill="#5a4a44" opacity="0.45" filter="url(#blur4)"/>
<linearGradient id="jy" gradientUnits="userSpaceOnUse" x1="1600" y1="0" x2="2000" y2="0"><stop offset="0" stop-color="#ffe680"/><stop offset="0.6" stop-color="#fee684"/><stop offset="1" stop-color="#f7eab4"/></linearGradient>
<linearGradient id="jp" gradientUnits="userSpaceOnUse" x1="1600" y1="0" x2="2000" y2="0"><stop offset="0" stop-color="#8f6d8a"/><stop offset="0.42" stop-color="#916f8c"/><stop offset="0.8" stop-color="#b39fb2"/><stop offset="1" stop-color="#c4b4c4"/></linearGradient>
<polygon points="1599.2,576.2 1797.6,693.7 1797.6,695.2 1599.2,577.4" fill="#9ea2a8"/>
<polygon points="1797.6,693.7 2001.8,582.2 2001.8,583.4 1797.6,695.2" fill="#ececec"/>
<polygon points="1599.2,576.2 1800.0,502.4 2001.8,582.2 1797.6,693.7" fill="url(#jp)"/>
<polygon points="1599.2,576.2 1800.0,502.4 1839.7,517.9 1640.9,600.6" fill="url(#jy)"/>
<polygon points="1712.8,643.0 1908.7,545.5 1949.9,561.6 1752.3,666.6" fill="url(#jy)"/>
<polygon points="1714.6,554.5 1750.1,542.2 1751.4,546.1 1763.2,534.3 1746.6,532.4 1748.0,536.3 1712.6,548.7" fill="#6a6436" opacity="1.0"/>
<polygon points="1807.4,557.9 1773.6,573.0 1771.9,569.2 1761.2,581.9 1777.9,582.4 1776.2,578.6 1810.0,563.5" fill="#43303f" opacity="1.0"/>
<polygon points="1816.5,616.6 1848.8,598.9 1851.1,603.0 1860.5,589.0 1843.6,589.4 1845.9,593.5 1813.5,611.2" fill="#777047" opacity="1.0"/>
<polygon points="1895.7,612.4 1862.8,630.7 1860.8,627.0 1851.2,640.6 1867.8,639.6 1865.8,635.9 1898.7,617.6" fill="#695766" opacity="1.0"/>
<linearGradient id="cjt" gradientUnits="userSpaceOnUse" x1="1570.3" y1="0" x2="1716.3" y2="0"><stop offset="0" stop-color="#4a2814"/><stop offset="0.35" stop-color="#744428"/><stop offset="0.7" stop-color="#a86c44"/><stop offset="1" stop-color="#cf8f62"/></linearGradient>
<linearGradient id="cjs" gradientUnits="userSpaceOnUse" x1="1570.3" y1="0" x2="1716.3" y2="0"><stop offset="0" stop-color="#2a140a"/><stop offset="0.4" stop-color="#6a3a1c"/><stop offset="0.75" stop-color="#b0602c"/><stop offset="1" stop-color="#d07a3c"/></linearGradient>
<linearGradient id="cjp" x1="0" y1="0" x2="0" y2="1"><stop offset="0" stop-color="#7a4420"/><stop offset="1" stop-color="#c06a30"/></linearGradient>
<g filter="url(#blur3)" opacity="0.42"><path d="M1638.0 584.5Q1673.1 585.5 1704.2 590.2L1712.2 593.2L1708.2 597.2Q1673.1 593.5 1638.0 587.5Z" fill="#3a2a20"/></g>
<ellipse cx="1708.2" cy="593.7" rx="6" ry="3.6" fill="#2e2420" opacity="0.5" filter="url(#blur2)"/>
<polygon points="1703.7,567.0 1715.0,568.0 1708.2,592.8" fill="url(#cjp)"/>
<path d="M1566.9 510.3C1584.8 519.4 1603.6 530.0 1620.5 537.5C1637.4 545.0 1652.2 551.2 1668.1 555.4C1684.0 559.6 1699.8 560.4 1715.7 562.9L1715.0 567.6C1699.4 565.1 1683.8 564.3 1668.1 560.2C1652.3 556.1 1637.3 550.5 1620.5 543.2C1603.7 536.0 1585.0 525.5 1567.3 516.7Z" fill="url(#cjs)"/>
<path d="M1570.3 503.8C1587.5 512.6 1605.4 523.2 1621.9 530.3C1638.4 537.4 1653.8 542.5 1669.5 546.6C1685.2 550.7 1700.7 552.2 1716.3 555.0L1715.7 563.6C1699.8 561.1 1684.0 560.3 1668.1 556.1C1652.2 551.9 1637.4 545.7 1620.5 538.2C1603.6 530.7 1584.8 520.1 1566.9 511.0Z" fill="url(#cjt)"/>
<polygon points="1904.0,512.0 1928.4,501.1 1913.9,496.1 1993.0,488.2 1984.8,521.2 1966.5,515.1 1940.7,526.6" fill="#526b51"/>
<polygon points="1532.6,702.9 1566.5,645.2 1585.6,656.7 1618.8,643.8 1667.1,671.3 1634.1,686.6 1657.6,701.3" fill="#526b51"/>
<text x="1935" y="477" font-family="Liberation Sans, Arial, Helvetica, sans-serif" font-size="38" font-style="italic" stroke="#000" stroke-width="0.35">ε</text>
<text x="1524" y="655" font-family="Liberation Sans, Arial, Helvetica, sans-serif" font-size="38" font-style="italic" stroke="#000" stroke-width="0.35">ε</text>
<line x1="1798.7" y1="425.0" x2="1798.7" y2="392.4" stroke="#000" stroke-width="1.5"/><polygon points="1798.7,378.8 1805.3,395.8 1792.1,395.8" fill="#000"/>
<line x1="1798.7" y1="425.0" x2="1767.9" y2="436.2" stroke="#000" stroke-width="1.5"/><polygon points="1755.1,440.8 1768.8,428.8 1773.3,441.2" fill="#000"/>
<line x1="1798.7" y1="425.0" x2="1830.0" y2="435.9" stroke="#000" stroke-width="1.5"/><polygon points="1842.8,440.4 1824.6,441.0 1828.9,428.6" fill="#000"/>
<text x="1801.2" y="370.6" font-family="Liberation Sans, Arial, Helvetica, sans-serif" font-size="22.1" text-anchor="middle">[001]</text>
<text transform="translate(1703.5 468) rotate(-19.5)" font-family="Liberation Sans, Arial, Helvetica, sans-serif" font-size="22.1">[100]</text>
<text transform="translate(1846.8 447.5) rotate(20)" font-family="Liberation Sans, Arial, Helvetica, sans-serif" font-size="22.1">[010]</text>
<text transform="translate(1561.8 450.6) rotate(21.2)" font-family="Liberation Sans, Arial, Helvetica, sans-serif" font-size="28.6">Cantilever</text>
<text transform="translate(1548.6 484.0) rotate(21.2)" font-family="Liberation Sans, Arial, Helvetica, sans-serif" font-size="28.6">along [110]</text>
<clipPath id="clipb"><rect x="87.5" y="842.3" width="529.6" height="426.60000000000014"/></clipPath>
<g clip-path="url(#clipb)">
<polyline points="86.9,1254.0 89.6,1255.0 92.2,1253.0 94.9,1254.8 97.5,1256.1 100.2,1255.0 102.8,1257.6 105.5,1252.3 108.1,1254.4 110.8,1252.8 113.4,1252.6 116.1,1254.0 118.7,1254.9 121.3,1255.4 124.0,1255.7 126.6,1259.5 129.3,1256.5 131.9,1251.2 134.6,1255.2 137.2,1253.4 139.9,1253.7 142.5,1257.7 145.2,1254.4 147.8,1250.6 150.5,1255.7 153.1,1254.4 155.7,1252.5 158.4,1253.1 161.0,1253.8 163.7,1255.1 166.3,1254.3 169.0,1255.4 171.6,1259.3 174.3,1253.5 176.9,1253.4 179.6,1254.6 182.2,1257.5 184.9,1253.4 187.5,1257.9 190.1,1251.6 192.8,1251.8 195.4,1253.5 198.1,1251.0 200.7,1250.7 203.4,1251.9 206.0,1251.1 208.7,1247.9 211.3,1244.8 214.0,1245.5 216.6,1240.2 219.2,1230.6 221.9,1224.6 224.5,1210.4 227.2,1201.8 229.8,1191.0 232.5,1176.9 235.1,1162.0 237.8,1148.9 240.4,1131.3 243.1,1114.3 245.7,1095.8 248.4,1081.2 251.0,1059.1 253.6,1042.2 256.3,1021.5 258.9,1001.2 261.6,983.5 264.2,964.8 266.9,947.5 269.5,930.1 272.2,917.8 274.8,906.5 277.5,896.1 280.1,888.8 282.8,883.9 285.4,888.2 288.0,897.6 290.7,904.0 293.3,917.4 296.0,928.8 298.6,948.5 301.3,964.7 303.9,985.0 306.6,1001.3 309.2,1018.3 311.9,1042.8 314.5,1058.3 317.2,1077.6 319.8,1098.0 322.4,1117.3 325.1,1132.3 327.7,1149.6 330.4,1160.8 333.0,1181.7 335.7,1191.1 338.3,1203.3 341.0,1215.2 343.6,1224.3 346.3,1233.5 348.9,1239.4 351.6,1244.6 354.2,1248.7 356.8,1252.4 359.5,1251.8 362.1,1253.8 364.8,1255.5 367.4,1257.0 370.1,1257.0 372.7,1256.6 375.4,1256.5 378.0,1260.4 380.7,1258.9 383.3,1258.5 385.9,1266.3 388.6,1260.7 391.2,1260.8 393.9,1259.3 396.5,1256.8 399.2,1261.6 401.8,1259.0 404.5,1259.4 407.1,1261.6 409.8,1261.6 412.4,1259.9 415.1,1259.5 417.7,1264.1 420.3,1260.8 423.0,1257.3 425.6,1261.3 428.3,1260.0 430.9,1259.8 433.6,1261.3 436.2,1260.3 438.9,1264.3 441.5,1260.4 444.2,1260.5 446.8,1262.5 449.5,1258.8 452.1,1262.3 454.7,1260.0 457.4,1262.8 460.0,1258.3 462.7,1261.2 465.3,1256.8 468.0,1259.4 470.6,1260.4 473.3,1261.5 475.9,1264.8 478.6,1264.6 481.2,1257.6 483.9,1259.0 486.5,1263.4 489.1,1261.7 491.8,1257.7 494.4,1261.9 497.1,1258.4 499.7,1259.0 502.4,1258.2 505.0,1260.4 507.7,1266.0 510.3,1261.9 513.0,1260.9 515.6,1266.7 518.2,1260.2 520.9,1260.9 523.5,1260.7 526.2,1262.3 528.8,1260.7 531.5,1264.6 534.1,1260.8 536.8,1262.7 539.4,1262.0 542.1,1259.7 544.7,1259.5 547.4,1261.6 550.0,1256.7 552.6,1261.8 555.3,1262.0 557.9,1262.2 560.6,1261.7 563.2,1262.7 565.9,1261.2 568.5,1263.5 571.2,1258.5 573.8,1264.1 576.5,1260.2 579.1,1263.3 581.8,1261.3 584.4,1261.4 587.0,1260.6 589.7,1265.4 592.3,1260.1 595.0,1259.8 597.6,1263.0 600.3,1263.2 602.9,1262.7 605.6,1260.6 608.2,1261.3 610.9,1264.7 613.5,1260.5 616.2,1264.2" fill="none" stroke="#5ec962" stroke-width="2.2" stroke-linejoin="round" stroke-linecap="round"/>
<polyline points="86.9,1236.4 89.6,1236.6 92.2,1243.0 94.9,1232.7 97.5,1240.2 100.2,1232.9 102.8,1244.7 105.5,1241.6 108.1,1245.7 110.8,1239.2 113.4,1242.5 116.1,1240.1 118.7,1238.6 121.3,1241.7 124.0,1236.9 126.6,1240.1 129.3,1243.8 131.9,1241.6 134.6,1240.0 137.2,1249.1 139.9,1241.7 142.5,1239.4 145.2,1242.0 147.8,1239.5 150.5,1239.9 153.1,1239.9 155.7,1248.0 158.4,1240.7 161.0,1240.9 163.7,1242.1 166.3,1246.1 169.0,1237.4 171.6,1234.9 174.3,1244.3 176.9,1228.8 179.6,1230.5 182.2,1231.5 184.9,1234.0 187.5,1215.3 190.1,1201.9 192.8,1203.7 195.4,1189.8 198.1,1179.7 200.7,1171.1 203.4,1157.9 206.0,1144.8 208.7,1128.2 211.3,1118.8 214.0,1103.5 216.6,1082.0 219.2,1063.1 221.9,1049.2 224.5,1030.4 227.2,1007.5 229.8,991.5 232.5,978.8 235.1,958.4 237.8,941.8 240.4,928.8 243.1,914.8 245.7,903.2 248.4,887.4 251.0,890.6 253.6,879.9 256.3,876.7 258.9,888.2 261.6,894.2 264.2,903.2 266.9,918.1 269.5,935.2 272.2,944.7 274.8,963.8 277.5,982.5 280.1,990.1 282.8,1009.6 285.4,1031.9 288.0,1042.0 290.7,1064.5 293.3,1087.0 296.0,1103.0 298.6,1117.6 301.3,1124.6 303.9,1153.2 306.6,1160.7 309.2,1174.0 311.9,1184.7 314.5,1187.9 317.2,1198.7 319.8,1208.6 322.4,1227.8 325.1,1226.0 327.7,1231.3 330.4,1233.9 333.0,1239.1 335.7,1240.7 338.3,1241.4 341.0,1237.3 343.6,1231.7 346.3,1244.1 348.9,1245.0 351.6,1248.9 354.2,1244.7 356.8,1243.2 359.5,1247.0 362.1,1240.4 364.8,1242.3 367.4,1242.6 370.1,1247.2 372.7,1253.7 375.4,1249.1 378.0,1250.5 380.7,1247.4 383.3,1247.6 385.9,1245.1 388.6,1245.8 391.2,1238.3 393.9,1242.7 396.5,1242.4 399.2,1249.9 401.8,1249.4 404.5,1251.1 407.1,1252.6 409.8,1246.1 412.4,1251.0 415.1,1254.2 417.7,1247.3 420.3,1251.2 423.0,1246.9 425.6,1241.9 428.3,1248.0 430.9,1244.8 433.6,1248.1 436.2,1246.1 438.9,1248.9 441.5,1240.4 444.2,1255.2 446.8,1252.7 449.5,1246.8 452.1,1244.9 454.7,1248.2 457.4,1250.6 460.0,1249.7 462.7,1249.7 465.3,1241.5 468.0,1244.5 470.6,1253.2 473.3,1249.4 475.9,1243.3 478.6,1245.6 481.2,1243.6 483.9,1245.2 486.5,1252.9 489.1,1248.1 491.8,1252.9 494.4,1249.6 497.1,1243.7 499.7,1246.8 502.4,1257.3 505.0,1246.5 507.7,1245.5 510.3,1253.7 513.0,1249.7 515.6,1249.4" fill="none" stroke="#fde725" stroke-width="2.2" stroke-linejoin="round" stroke-linecap="round"/>
<polyline points="86.9,1233.9 89.6,1238.0 92.2,1230.4 94.9,1237.2 97.5,1232.8 100.2,1232.9 102.8,1240.5 105.5,1234.4 108.1,1233.7 110.8,1236.5 113.4,1237.9 116.1,1233.9 118.7,1236.1 121.3,1230.7 124.0,1232.8 126.6,1232.6 129.3,1229.5 131.9,1228.9 134.6,1228.5 137.2,1233.4 139.9,1233.7 142.5,1233.2 145.2,1234.6 147.8,1229.7 150.5,1234.2 153.1,1235.3 155.7,1237.1 158.4,1231.6 161.0,1233.2 163.7,1227.6 166.3,1232.9 169.0,1227.0 171.6,1229.8 174.3,1238.6 176.9,1227.1 179.6,1237.6 182.2,1236.0 184.9,1233.8 187.5,1236.5 190.1,1236.8 192.8,1238.6 195.4,1234.2 198.1,1233.0 200.7,1233.0 203.4,1231.6 206.0,1234.9 208.7,1232.3 211.3,1238.8 214.0,1228.4 216.6,1231.0 219.2,1231.3 221.9,1227.1 224.5,1240.7 227.2,1225.1 229.8,1231.8 232.5,1229.9 235.1,1236.1 237.8,1221.7 240.4,1230.0 243.1,1220.8 245.7,1219.2 248.4,1208.2 251.0,1202.5 253.6,1185.2 256.3,1176.3 258.9,1163.9 261.6,1153.5 264.2,1123.3 266.9,1117.9 269.5,1097.0 272.2,1072.4 274.8,1053.8 277.5,1030.1 280.1,1014.6 282.8,989.1 285.4,967.3 288.0,947.8 290.7,930.0 293.3,914.3 296.0,899.2 298.6,896.0 301.3,878.3 303.9,874.1 306.6,890.5 309.2,901.0 311.9,915.8 314.5,930.1 317.2,948.1 319.8,968.9 322.4,991.4 325.1,1008.8 327.7,1030.6 330.4,1059.1 333.0,1075.9 335.7,1091.5 338.3,1121.0 341.0,1134.2 343.6,1146.4 346.3,1159.7 348.9,1178.5 351.6,1187.4 354.2,1198.0 356.8,1207.4 359.5,1219.4 362.1,1228.7 364.8,1226.4 367.4,1225.2 370.1,1234.4 372.7,1233.8 375.4,1237.6 378.0,1239.6 380.7,1235.5 383.3,1236.0 385.9,1236.7 388.6,1233.1 391.2,1239.6 393.9,1242.2 396.5,1238.1 399.2,1236.8 401.8,1236.8 404.5,1235.0 407.1,1235.0 409.8,1236.4 412.4,1234.9 415.1,1236.4 417.7,1232.4 420.3,1239.2 423.0,1238.2 425.6,1234.0 428.3,1230.0 430.9,1238.1 433.6,1242.0 436.2,1235.6 438.9,1236.5 441.5,1236.3 444.2,1240.6 446.8,1235.1 449.5,1241.8 452.1,1237.3 454.7,1241.7 457.4,1238.6 460.0,1237.7 462.7,1233.3 465.3,1236.1 468.0,1237.7 470.6,1240.9 473.3,1239.5 475.9,1236.3 478.6,1240.2 481.2,1242.2 483.9,1238.3 486.5,1237.3 489.1,1237.5 491.8,1241.7 494.4,1240.8 497.1,1235.7 499.7,1240.3 502.4,1237.4 505.0,1236.4 507.7,1243.4 510.3,1242.0 513.0,1236.6 515.6,1239.5 518.2,1241.0 520.9,1237.0 523.5,1238.9 526.2,1241.7 528.8,1233.1 531.5,1240.6 534.1,1242.0 536.8,1241.2 539.4,1234.8 542.1,1240.7 544.7,1236.6 547.4,1241.6 550.0,1241.8 552.6,1240.4 555.3,1237.0 557.9,1237.7 560.6,1242.8 563.2,1236.7 565.9,1241.6 568.5,1241.7 571.2,1239.0 573.8,1248.3 576.5,1240.2 579.1,1247.5 581.8,1233.0 584.4,1232.3 587.0,1243.6 589.7,1242.4" fill="none" stroke="#21918c" stroke-width="2.2" stroke-linejoin="round" stroke-linecap="round"/>
<polyline points="86.9,1247.4 89.6,1220.4 92.2,1230.0 94.9,1227.8 97.5,1234.0 100.2,1213.9 102.8,1222.9 105.5,1219.9 108.1,1217.0 110.8,1219.2 113.4,1222.2 116.1,1224.3 118.7,1218.8 121.3,1230.8 124.0,1222.1 126.6,1198.3 129.3,1237.8 131.9,1223.6 134.6,1220.5 137.2,1229.7 139.9,1229.4 142.5,1227.9 145.2,1219.7 147.8,1229.2 150.5,1213.7 153.1,1240.6 155.7,1216.2 158.4,1225.8 161.0,1227.9 163.7,1229.8 166.3,1225.6 169.0,1232.2 171.6,1195.2 174.3,1225.9 176.9,1225.4 179.6,1223.0 182.2,1240.7 184.9,1218.2 187.5,1226.3 190.1,1208.8 192.8,1229.6 195.4,1212.5 198.1,1213.1 200.7,1248.6 203.4,1233.7 206.0,1227.3 208.7,1229.0 211.3,1214.4 214.0,1218.0 216.6,1231.5 219.2,1208.4 221.9,1230.2 224.5,1211.9 227.2,1228.9 229.8,1217.7 232.5,1243.9 235.1,1237.2 237.8,1223.2 240.4,1210.6 243.1,1220.7 245.7,1227.2 248.4,1218.5 251.0,1229.9 253.6,1236.0 256.3,1226.0 258.9,1221.8 261.6,1231.9 264.2,1220.8 266.9,1229.6 269.5,1216.7 272.2,1231.5 274.8,1210.7 277.5,1194.8 280.1,1195.5 282.8,1178.0 285.4,1163.1 288.0,1157.1 290.7,1150.2 293.3,1108.4 296.0,1109.9 298.6,1090.5 301.3,1071.0 303.9,1059.0 306.6,1020.1 309.2,1016.0 311.9,987.8 314.5,970.7 317.2,949.1 319.8,930.9 322.4,914.1 325.1,908.8 327.7,912.4 330.4,896.3 333.0,894.7 335.7,899.8 338.3,901.7 341.0,923.5 343.6,951.0 346.3,940.5 348.9,977.0 351.6,998.7 354.2,1013.3 356.8,1038.7 359.5,1064.8 362.1,1092.5 364.8,1104.3 367.4,1126.1 370.1,1131.9 372.7,1152.5 375.4,1161.6 378.0,1176.2 380.7,1181.7 383.3,1203.0 385.9,1220.0 388.6,1214.5 391.2,1221.9 393.9,1228.2 396.5,1225.1 399.2,1235.3 401.8,1230.5 404.5,1218.6 407.1,1220.7 409.8,1237.3 412.4,1236.9 415.1,1241.6 417.7,1234.1 420.3,1233.9 423.0,1217.9 425.6,1245.0 428.3,1224.0 430.9,1242.0 433.6,1222.2 436.2,1226.6 438.9,1234.1 441.5,1228.9 444.2,1226.5 446.8,1241.1 449.5,1239.1 452.1,1236.6 454.7,1230.0 457.4,1225.7 460.0,1228.9 462.7,1228.5 465.3,1233.1 468.0,1240.4 470.6,1231.9 473.3,1226.3 475.9,1228.0 478.6,1245.2 481.2,1235.2 483.9,1235.9 486.5,1236.4 489.1,1239.2 491.8,1235.2 494.4,1244.7 497.1,1241.4 499.7,1208.5 502.4,1232.9 505.0,1260.9 507.7,1222.7 510.3,1235.5 513.0,1244.2 515.6,1234.5 518.2,1246.6 520.9,1223.2 523.5,1223.3 526.2,1233.0 528.8,1228.1 531.5,1225.1 534.1,1240.0 536.8,1237.4 539.4,1235.1 542.1,1231.4 544.7,1237.5 547.4,1234.0 550.0,1228.6 552.6,1239.9 555.3,1238.6 557.9,1236.1 560.6,1241.7 563.2,1225.5 565.9,1234.2 568.5,1230.8 571.2,1247.6 573.8,1240.2 576.5,1254.8 579.1,1249.9 581.8,1232.5 584.4,1226.0 587.0,1240.3 589.7,1233.4 592.3,1234.6" fill="none" stroke="#3b528b" stroke-width="2.2" stroke-linejoin="round" stroke-linecap="round"/>
<polyline points="109.4,1224.0 112.1,1224.3 114.7,1222.1 117.4,1220.9 120.0,1220.4 122.7,1222.3 125.3,1220.6 128.0,1220.0 130.6,1222.7 133.3,1222.6 135.9,1223.4 138.5,1221.1 141.2,1222.6 143.8,1222.6 146.5,1220.3 149.1,1223.6 151.8,1223.3 154.4,1226.7 157.1,1223.3 159.7,1222.8 162.4,1225.0 165.0,1223.4 167.7,1224.6 170.3,1222.6 172.9,1223.6 175.6,1225.0 178.2,1224.5 180.9,1223.7 183.5,1221.8 186.2,1224.3 188.8,1223.7 191.5,1224.8 194.1,1224.1 196.8,1225.5 199.4,1223.8 202.1,1224.2 204.7,1225.0 207.3,1222.3 210.0,1223.4 212.6,1223.3 215.3,1227.4 217.9,1224.1 220.6,1225.4 223.2,1225.4 225.9,1224.0 228.5,1222.0 231.2,1226.1 233.8,1223.9 236.4,1225.8 239.1,1222.6 241.7,1224.1 244.4,1226.8 247.0,1227.2 249.7,1222.8 252.3,1222.9 255.0,1225.0 257.6,1226.3 260.3,1225.4 262.9,1225.7 265.6,1223.7 268.2,1226.2 270.8,1227.1 273.5,1224.7 276.1,1223.1 278.8,1224.1 281.4,1226.5 284.1,1222.4 286.7,1224.9 289.4,1223.2 292.0,1224.3 294.7,1223.6 297.3,1223.4 300.0,1224.8 302.6,1221.9 305.2,1221.8 307.9,1217.4 310.5,1214.2 313.2,1212.4 315.8,1200.0 318.5,1195.2 321.1,1185.4 323.8,1171.9 326.4,1162.1 329.1,1146.9 331.7,1129.2 334.4,1116.5 337.0,1098.1 339.6,1080.5 342.3,1061.8 344.9,1044.0 347.6,1022.2 350.2,1001.8 352.9,982.5 355.5,960.6 358.2,946.6 360.8,927.2 363.5,914.6 366.1,900.4 368.7,890.9 371.4,884.5 374.0,887.2 376.7,892.9 379.3,901.1 382.0,913.8 384.6,927.2 387.3,945.0 389.9,962.4 392.6,983.2 395.2,1000.4 397.9,1022.0 400.5,1041.6 403.1,1061.7 405.8,1083.1 408.4,1100.7 411.1,1118.8 413.7,1136.0 416.4,1151.0 419.0,1160.9 421.7,1176.4 424.3,1184.3 427.0,1197.3 429.6,1209.8 432.3,1213.9 434.9,1217.0 437.5,1220.6 440.2,1222.5 442.8,1224.2 445.5,1224.3 448.1,1228.3 450.8,1228.8 453.4,1227.6 456.1,1228.9 458.7,1229.8 461.4,1230.7 464.0,1229.8 466.7,1230.5 469.3,1229.1 471.9,1227.9 474.6,1228.9 477.2,1231.4 479.9,1231.4 482.5,1230.2 485.2,1229.1 487.8,1230.5 490.5,1232.8 493.1,1232.3 495.8,1229.1 498.4,1230.2 501.0,1228.0 503.7,1228.6 506.3,1230.7 509.0,1230.5 511.6,1232.1 514.3,1232.6 516.9,1232.0 519.6,1232.8 522.2,1229.9 524.9,1229.0 527.5,1231.7 530.2,1235.2 532.8,1231.6 535.4,1229.2 538.1,1231.5 540.7,1233.5 543.4,1229.6 546.0,1232.6 548.7,1230.4 551.3,1233.4 554.0,1232.7 556.6,1232.0 559.3,1234.8 561.9,1231.0 564.6,1230.6 567.2,1234.7 569.8,1230.4 572.5,1235.4 575.1,1231.9 577.8,1230.3 580.4,1232.0 583.1,1232.3 585.7,1232.5 588.4,1231.9 591.0,1234.0 593.7,1228.6 596.3,1231.5 599.0,1232.0 601.6,1235.4 604.2,1229.4 606.9,1232.1 609.5,1230.8 612.2,1231.7 614.8,1233.8" fill="none" stroke="#440154" stroke-width="2.2" stroke-linejoin="round" stroke-linecap="round"/>
</g>
<rect x="87.5" y="842.3" width="529.6" height="426.6" fill="none" stroke="#000" stroke-width="1.8"/>
<path d="M153.1 1268.9v-9M153.1 842.3v9M285.4 1268.9v-9M285.4 842.3v9M417.7 1268.9v-9M417.7 842.3v9M550.0 1268.9v-9M550.0 842.3v9" stroke="#000" stroke-width="1.6" fill="none"/>
<path d="M219.2 1268.9v-5M219.2 842.3v5M351.6 1268.9v-5M351.6 842.3v5M483.9 1268.9v-5M483.9 842.3v5" stroke="#000" stroke-width="1.6" fill="none"/>
<path d="M87.5 927.9h9M617.1 927.9h-9M87.5 1013.2h9M617.1 1013.2h-9M87.5 1098.4h9M617.1 1098.4h-9M87.5 1183.7h9M617.1 1183.7h-9" stroke="#000" stroke-width="1.6" fill="none"/>
<path d="M87.5 885.3h5M617.1 885.3h-5M87.5 970.5h5M617.1 970.5h-5M87.5 1055.8h5M617.1 1055.8h-5M87.5 1141.0h5M617.1 1141.0h-5M87.5 1226.3h5M617.1 1226.3h-5" stroke="#000" stroke-width="1.6" fill="none"/>
<text x="153.1" y="1298.8" font-family="Liberation Sans, Arial, Helvetica, sans-serif" font-size="22.3" text-anchor="middle">45</text>
<text x="285.4" y="1298.8" font-family="Liberation Sans, Arial, Helvetica, sans-serif" font-size="22.3" text-anchor="middle">46</text>
<text x="417.7" y="1298.8" font-family="Liberation Sans, Arial, Helvetica, sans-serif" font-size="22.3" text-anchor="middle">47</text>
<text x="550.0" y="1298.8" font-family="Liberation Sans, Arial, Helvetica, sans-serif" font-size="22.3" text-anchor="middle">48</text>
<text x="351.5" y="1342" font-family="Liberation Sans, Arial, Helvetica, sans-serif" font-size="25" text-anchor="middle">2θ (<tspan dy="-10" font-size="18.5">o</tspan><tspan dy="10">)</tspan></text>
<text transform="translate(66.5 1055.8) rotate(-90)" font-family="Liberation Sans, Arial, Helvetica, sans-serif" font-size="27.8" text-anchor="middle">Intensity (A.U.)</text>
<line x1="439.3" y1="881.2" x2="488.4" y2="881.2" stroke="#440154" stroke-width="2.2"/>
<text x="498.6" y="888.8000000000001" font-family="Liberation Sans, Arial, Helvetica, sans-serif" font-size="22">Unstrained</text>
<line x1="439.3" y1="908" x2="488.4" y2="908" stroke="#3b528b" stroke-width="2.2"/>
<text x="502.6" y="915.6" font-family="Liberation Sans, Arial, Helvetica, sans-serif" font-size="22">0.6%</text>
<line x1="439.3" y1="935.2" x2="488.4" y2="935.2" stroke="#21918c" stroke-width="2.2"/>
<text x="502.6" y="942.8000000000001" font-family="Liberation Sans, Arial, Helvetica, sans-serif" font-size="22">1.0%</text>
<line x1="439.3" y1="962" x2="488.4" y2="962" stroke="#5ec962" stroke-width="2.2"/>
<text x="502.6" y="969.6" font-family="Liberation Sans, Arial, Helvetica, sans-serif" font-size="22">1.5%</text>
<line x1="439.3" y1="988.8" x2="488.4" y2="988.8" stroke="#fde725" stroke-width="2.2"/>
<text x="502.6" y="996.4" font-family="Liberation Sans, Arial, Helvetica, sans-serif" font-size="22">2.0%</text>
<text x="442.6" y="1033.5" font-family="Liberation Sans, Arial, Helvetica, sans-serif" font-size="23.3">Along [100]</text>
<clipPath id="clipc"><rect x="754.8" y="841.3" width="528.1000000000001" height="425.60000000000014"/></clipPath>
<g clip-path="url(#clipc)">
<polyline points="770.4,1225.7 773.7,1226.6 777.0,1223.3 780.3,1223.2 783.6,1225.2 786.9,1227.4 790.2,1225.3 793.5,1222.9 796.8,1223.5 800.1,1224.7 803.4,1226.3 806.7,1224.8 809.9,1224.3 813.2,1224.6 816.5,1225.2 819.8,1223.8 823.1,1225.0 826.4,1225.5 829.7,1227.7 833.0,1225.0 836.3,1226.7 839.6,1223.6 842.9,1226.6 846.2,1225.5 849.5,1224.4 852.8,1225.3 856.1,1226.8 859.4,1224.9 862.7,1227.0 866.0,1227.8 869.3,1228.0 872.6,1228.1 875.9,1223.6 879.2,1226.1 882.5,1224.5 885.8,1227.1 889.1,1225.8 892.4,1226.1 895.7,1226.5 899.0,1224.9 902.3,1226.0 905.6,1224.7 908.9,1229.1 912.2,1225.2 915.5,1226.0 918.8,1223.2 922.1,1223.7 925.4,1224.7 928.7,1227.3 932.0,1227.3 935.3,1226.6 938.6,1225.1 941.8,1229.1 945.1,1224.5 948.4,1224.8 951.7,1226.8 955.0,1224.3 958.3,1226.0 961.6,1226.6 964.9,1224.3 968.2,1224.0 971.5,1221.9 974.8,1218.7 978.1,1211.8 981.4,1210.7 984.7,1202.7 988.0,1187.7 991.3,1174.9 994.6,1159.7 997.9,1142.8 1001.2,1118.3 1004.5,1096.9 1007.8,1073.5 1011.1,1048.3 1014.4,1019.8 1017.7,997.7 1021.0,969.8 1024.3,949.1 1027.6,927.9 1030.9,912.4 1034.2,901.9 1037.5,896.2 1040.8,904.5 1044.1,916.9 1047.4,935.0 1050.7,955.3 1054.0,982.9 1057.3,1004.2 1060.6,1029.0 1063.9,1060.4 1067.2,1085.2 1070.5,1106.8 1073.7,1130.4 1077.0,1147.9 1080.3,1166.0 1083.6,1183.3 1086.9,1196.9 1090.2,1207.6 1093.5,1218.0 1096.8,1220.3 1100.1,1222.1 1103.4,1222.0 1106.7,1225.5 1110.0,1225.7 1113.3,1226.7 1116.6,1228.6 1119.9,1226.7 1123.2,1228.2 1126.5,1229.2 1129.8,1228.6 1133.1,1231.7 1136.4,1225.4 1139.7,1228.1 1143.0,1226.3 1146.3,1228.1 1149.6,1232.3 1152.9,1225.7 1156.2,1227.9 1159.5,1229.4 1162.8,1228.6 1166.1,1229.9 1169.4,1226.0 1172.7,1230.1 1176.0,1227.0 1179.3,1226.6 1182.6,1229.5 1185.9,1229.4 1189.2,1227.5 1192.5,1227.4 1195.8,1228.4 1199.1,1228.8 1202.4,1228.5 1205.6,1227.2 1208.9,1225.2 1212.2,1231.0 1215.5,1229.2 1218.8,1227.0 1222.1,1226.5 1225.4,1227.9 1228.7,1228.4 1232.0,1225.7 1235.3,1231.3 1238.6,1229.8 1241.9,1228.7 1245.2,1229.8 1248.5,1229.6 1251.8,1231.0 1255.1,1229.6 1258.4,1231.4 1261.7,1231.8 1265.0,1228.9 1268.3,1228.7 1271.6,1228.1 1274.9,1229.1 1278.2,1228.4 1281.5,1229.6" fill="none" stroke="#440154" stroke-width="3.0" stroke-linejoin="round" stroke-linecap="round"/>
<polyline points="780.9,1228.9 784.2,1227.0 787.5,1237.5 790.8,1229.0 794.1,1228.1 797.4,1228.9 800.7,1226.1 804.0,1225.5 807.3,1229.2 810.6,1226.4 813.9,1230.1 817.2,1227.1 820.5,1222.6 823.8,1224.0 827.1,1225.3 830.4,1222.0 833.7,1227.7 837.0,1227.1 840.3,1230.7 843.6,1225.5 846.9,1227.4 850.2,1229.8 853.5,1230.3 856.8,1225.1 860.1,1232.6 863.4,1226.4 866.7,1231.8 870.0,1227.4 873.3,1227.1 876.6,1224.7 879.9,1228.0 883.2,1235.4 886.5,1226.6 889.7,1233.0 893.0,1232.4 896.3,1227.4 899.6,1231.8 902.9,1232.7 906.2,1227.8 909.5,1227.1 912.8,1232.0 916.1,1229.8 919.4,1235.0 922.7,1230.1 926.0,1225.5 929.3,1228.7 932.6,1225.4 935.9,1231.1 939.2,1231.0 942.5,1227.8 945.8,1226.4 949.1,1231.6 952.4,1227.9 955.7,1232.5 959.0,1226.0 962.3,1227.8 965.6,1226.7 968.9,1224.8 972.2,1234.9 975.5,1230.7 978.8,1222.1 982.1,1223.8 985.4,1212.8 988.7,1213.8 992.0,1202.0 995.3,1185.0 998.6,1170.2 1001.9,1154.9 1005.2,1136.5 1008.5,1113.7 1011.8,1090.2 1015.1,1068.1 1018.4,1043.8 1021.6,1022.6 1024.9,998.8 1028.2,978.8 1031.5,958.4 1034.8,947.0 1038.1,937.8 1041.4,939.1 1044.7,949.9 1048.0,963.8 1051.3,979.6 1054.6,1004.8 1057.9,1027.7 1061.2,1048.6 1064.5,1075.1 1067.8,1094.9 1071.1,1116.2 1074.4,1139.3 1077.7,1162.4 1081.0,1174.7 1084.3,1185.3 1087.6,1202.9 1090.9,1211.6 1094.2,1217.8 1097.5,1224.2 1100.8,1220.6 1104.1,1222.1 1107.4,1224.3 1110.7,1232.6 1114.0,1230.3 1117.3,1228.5 1120.6,1228.6 1123.9,1232.7 1127.2,1234.5 1130.5,1228.8 1133.8,1231.8 1137.1,1238.0 1140.4,1232.9 1143.7,1230.2 1147.0,1232.2 1150.2,1231.5 1153.5,1233.2 1156.8,1232.3 1160.1,1229.9 1163.4,1231.0 1166.7,1232.5 1170.0,1229.4 1173.3,1231.7 1176.6,1228.8 1179.9,1235.2 1183.2,1236.1 1186.5,1229.0 1189.8,1234.1 1193.1,1232.2 1196.4,1232.0 1199.7,1231.0 1203.0,1232.5 1206.3,1234.8 1209.6,1228.2 1212.9,1234.8 1216.2,1231.1 1219.5,1228.7 1222.8,1231.8 1226.1,1233.9 1229.4,1231.8 1232.7,1232.9 1236.0,1231.1 1239.3,1230.6 1242.6,1235.1 1245.9,1229.5 1249.2,1235.2 1252.5,1233.3 1255.8,1231.5 1259.1,1231.7 1262.4,1231.5 1265.7,1232.3 1269.0,1232.3 1272.3,1232.0 1275.6,1226.8 1278.9,1226.4 1282.2,1233.6" fill="none" stroke="#3b528b" stroke-width="3.0" stroke-linejoin="round" stroke-linecap="round"/>
<polyline points="770.4,1224.8 773.7,1218.3 777.0,1221.2 780.3,1220.0 783.6,1218.8 786.9,1219.5 790.2,1219.6 793.5,1220.5 796.8,1221.5 800.1,1222.8 803.4,1221.3 806.7,1223.1 809.9,1221.8 813.2,1221.1 816.5,1220.5 819.8,1219.0 823.1,1217.9 826.4,1220.9 829.7,1220.8 833.0,1221.8 836.3,1221.8 839.6,1218.7 842.9,1219.9 846.2,1219.1 849.5,1223.3 852.8,1221.2 856.1,1221.7 859.4,1219.7 862.7,1219.0 866.0,1220.4 869.3,1221.4 872.6,1222.5 875.9,1218.7 879.2,1222.4 882.5,1220.1 885.8,1220.8 889.1,1221.2 892.4,1221.0 895.7,1222.8 899.0,1223.7 902.3,1222.7 905.6,1221.0 908.9,1222.9 912.2,1222.9 915.5,1223.9 918.8,1222.8 922.1,1219.1 925.4,1220.8 928.7,1221.5 932.0,1224.2 935.3,1222.1 938.6,1224.2 941.8,1222.9 945.1,1219.9 948.4,1222.2 951.7,1222.9 955.0,1222.2 958.3,1217.8 961.6,1220.5 964.9,1217.0 968.2,1211.8 971.5,1211.7 974.8,1204.9 978.1,1195.3 981.4,1188.1 984.7,1175.7 988.0,1156.7 991.3,1137.1 994.6,1119.3 997.9,1094.2 1001.2,1068.0 1004.5,1040.6 1007.8,1021.1 1011.1,991.1 1014.4,966.9 1017.7,949.3 1021.0,932.5 1024.3,917.1 1027.6,910.4 1030.9,910.2 1034.2,921.2 1037.5,936.4 1040.8,953.5 1044.1,976.4 1047.4,1003.6 1050.7,1023.3 1054.0,1050.4 1057.3,1075.9 1060.6,1097.7 1063.9,1120.7 1067.2,1137.8 1070.5,1158.2 1073.7,1175.1 1077.0,1191.3 1080.3,1203.2 1083.6,1209.9 1086.9,1212.9 1090.2,1221.6 1093.5,1221.9 1096.8,1217.9 1100.1,1222.1 1103.4,1221.7 1106.7,1222.8 1110.0,1220.9 1113.3,1223.7 1116.6,1223.7 1119.9,1224.3 1123.2,1227.0 1126.5,1225.4 1129.8,1222.6 1133.1,1221.6 1136.4,1224.1 1139.7,1227.4 1143.0,1227.1 1146.3,1224.1 1149.6,1227.6 1152.9,1226.2 1156.2,1224.2 1159.5,1226.3 1162.8,1225.3 1166.1,1223.3 1169.4,1224.7 1172.7,1225.9 1176.0,1228.3 1179.3,1223.6 1182.6,1226.2 1185.9,1225.8 1189.2,1225.7 1192.5,1223.4 1195.8,1228.4 1199.1,1228.6 1202.4,1229.2 1205.6,1227.0 1208.9,1229.1 1212.2,1227.2 1215.5,1228.2 1218.8,1225.6 1222.1,1226.7 1225.4,1225.7 1228.7,1224.2 1232.0,1225.5 1235.3,1224.2 1238.6,1224.3 1241.9,1225.8 1245.2,1225.4 1248.5,1230.8 1251.8,1230.2 1255.1,1228.9 1258.4,1228.3 1261.7,1225.1 1265.0,1227.4 1268.3,1224.0 1271.6,1225.7 1274.9,1226.0 1278.2,1226.3 1281.5,1228.8" fill="none" stroke="#21918c" stroke-width="3.0" stroke-linejoin="round" stroke-linecap="round"/>
<polyline points="754.5,1210.0 757.8,1207.2 761.1,1213.9 764.4,1217.6 767.7,1212.2 771.0,1214.0 774.3,1214.1 777.6,1213.2 780.9,1213.2 784.2,1214.0 787.5,1211.0 790.8,1208.2 794.1,1207.9 797.4,1213.2 800.7,1212.8 804.0,1211.8 807.3,1206.9 810.6,1211.5 813.9,1211.9 817.2,1210.0 820.5,1210.5 823.8,1216.9 827.1,1215.2 830.4,1214.1 833.7,1213.1 837.0,1211.6 840.3,1211.8 843.6,1214.2 846.9,1210.9 850.2,1212.3 853.5,1216.4 856.8,1210.1 860.1,1211.3 863.4,1216.9 866.7,1213.9 870.0,1213.6 873.3,1211.4 876.6,1210.2 879.9,1216.0 883.2,1207.8 886.5,1214.5 889.7,1212.4 893.0,1213.4 896.3,1209.2 899.6,1215.7 902.9,1215.1 906.2,1214.5 909.5,1214.9 912.8,1211.1 916.1,1214.5 919.4,1215.2 922.7,1214.1 926.0,1207.4 929.3,1214.1 932.6,1214.6 935.9,1212.0 939.2,1214.6 942.5,1217.3 945.8,1214.3 949.1,1217.3 952.4,1213.1 955.7,1212.5 959.0,1214.2 962.3,1211.1 965.6,1208.5 968.9,1211.7 972.2,1209.2 975.5,1208.0 978.8,1201.7 982.1,1195.7 985.4,1187.7 988.7,1174.4 992.0,1162.3 995.3,1148.8 998.6,1131.0 1001.9,1115.4 1005.2,1093.3 1008.5,1076.5 1011.8,1058.8 1015.1,1033.9 1018.4,1011.0 1021.6,988.7 1024.9,970.2 1028.2,954.1 1031.5,939.1 1034.8,929.2 1038.1,920.9 1041.4,922.8 1044.7,930.4 1048.0,943.6 1051.3,959.5 1054.6,974.3 1057.9,995.0 1061.2,1015.9 1064.5,1037.5 1067.8,1061.2 1071.1,1079.9 1074.4,1099.1 1077.7,1117.1 1081.0,1134.2 1084.3,1152.6 1087.6,1168.8 1090.9,1179.7 1094.2,1189.1 1097.5,1200.3 1100.8,1204.7 1104.1,1212.0 1107.4,1212.5 1110.7,1217.2 1114.0,1216.8 1117.3,1217.7 1120.6,1215.0 1123.9,1218.6 1127.2,1217.0 1130.5,1216.9 1133.8,1218.7 1137.1,1222.0 1140.4,1219.7 1143.7,1223.0 1147.0,1220.2 1150.2,1215.9 1153.5,1217.8 1156.8,1223.1 1160.1,1220.3 1163.4,1219.3 1166.7,1218.2 1170.0,1219.6 1173.3,1220.3 1176.6,1218.5 1179.9,1219.4 1183.2,1220.2 1186.5,1217.3 1189.8,1219.2 1193.1,1218.2 1196.4,1218.5 1199.7,1218.0 1203.0,1218.6 1206.3,1218.3 1209.6,1223.8 1212.9,1219.8 1216.2,1221.0 1219.5,1218.6 1222.8,1220.7 1226.1,1221.4 1229.4,1223.9 1232.7,1224.3 1236.0,1219.7 1239.3,1224.5 1242.6,1221.0 1245.9,1223.5 1249.2,1220.8 1252.5,1222.6 1255.8,1220.9 1259.1,1218.2 1262.4,1222.4 1265.7,1220.6 1269.0,1221.1 1272.3,1222.0 1275.6,1222.6 1278.9,1226.8 1282.2,1219.3" fill="none" stroke="#5ec962" stroke-width="3.0" stroke-linejoin="round" stroke-linecap="round"/>
<polyline points="780.9,1218.6 784.2,1226.4 787.5,1223.5 790.8,1221.2 794.1,1225.0 797.4,1220.2 800.7,1228.4 804.0,1224.3 807.3,1222.7 810.6,1224.8 813.9,1220.0 817.2,1224.3 820.5,1225.5 823.8,1225.5 827.1,1224.3 830.4,1220.4 833.7,1223.9 837.0,1219.8 840.3,1223.7 843.6,1221.7 846.9,1221.4 850.2,1225.2 853.5,1228.3 856.8,1227.1 860.1,1222.5 863.4,1222.4 866.7,1221.1 870.0,1222.1 873.3,1223.9 876.6,1224.7 879.9,1222.5 883.2,1223.7 886.5,1220.8 889.7,1222.4 893.0,1226.9 896.3,1227.1 899.6,1225.0 902.9,1224.0 906.2,1224.3 909.5,1222.1 912.8,1221.0 916.1,1225.2 919.4,1221.2 922.7,1224.9 926.0,1221.1 929.3,1223.8 932.6,1228.0 935.9,1225.5 939.2,1223.8 942.5,1224.7 945.8,1220.3 949.1,1226.4 952.4,1222.1 955.7,1221.9 959.0,1222.0 962.3,1223.7 965.6,1221.4 968.9,1220.9 972.2,1222.7 975.5,1220.7 978.8,1221.3 982.1,1217.6 985.4,1214.9 988.7,1201.4 992.0,1192.8 995.3,1180.7 998.6,1166.6 1001.9,1147.0 1005.2,1130.2 1008.5,1110.4 1011.8,1083.8 1015.1,1060.3 1018.4,1036.0 1021.6,1013.4 1024.9,987.3 1028.2,967.2 1031.5,946.7 1034.8,929.4 1038.1,915.6 1041.4,913.4 1044.7,916.4 1048.0,927.1 1051.3,937.9 1054.6,960.4 1057.9,979.7 1061.2,1001.3 1064.5,1026.8 1067.8,1051.5 1071.1,1079.8 1074.4,1099.9 1077.7,1121.1 1081.0,1141.9 1084.3,1159.7 1087.6,1171.6 1090.9,1191.0 1094.2,1201.1 1097.5,1213.6 1100.8,1219.4 1104.1,1217.7 1107.4,1226.3 1110.7,1221.6 1114.0,1222.8 1117.3,1219.0 1120.6,1228.1 1123.9,1224.7 1127.2,1224.0 1130.5,1224.2 1133.8,1227.1 1137.1,1228.4 1140.4,1227.6 1143.7,1225.3 1147.0,1224.3 1150.2,1221.4 1153.5,1224.4 1156.8,1227.1 1160.1,1225.1 1163.4,1230.7 1166.7,1228.5 1170.0,1225.4 1173.3,1227.4 1176.6,1226.7 1179.9,1224.4 1183.2,1225.5 1186.5,1222.6 1189.8,1225.6 1193.1,1228.9 1196.4,1225.3 1199.7,1230.6 1203.0,1226.0 1206.3,1228.3 1209.6,1227.7 1212.9,1225.0 1216.2,1223.8 1219.5,1227.7 1222.8,1228.5 1226.1,1226.6 1229.4,1226.4 1232.7,1219.9 1236.0,1225.2 1239.3,1229.0 1242.6,1229.4 1245.9,1227.8 1249.2,1225.0 1252.5,1229.0 1255.8,1226.3 1259.1,1228.9 1262.4,1230.5 1265.7,1224.8 1269.0,1226.4 1272.3,1227.7 1275.6,1228.1 1278.9,1227.4 1282.2,1229.3" fill="none" stroke="#fde725" stroke-width="3.0" stroke-linejoin="round" stroke-linecap="round"/>
</g>
<rect x="754.8" y="841.3" width="528.1" height="425.6" fill="none" stroke="#000" stroke-width="1.8"/>
<path d="M820.5 1266.9v-9M820.5 841.3v9M952.4 1266.9v-9M952.4 841.3v9M1084.3 1266.9v-9M1084.3 841.3v9M1216.2 1266.9v-9M1216.2 841.3v9" stroke="#000" stroke-width="1.6" fill="none"/>
<path d="M886.5 1266.9v-5M886.5 841.3v5M1018.4 1266.9v-5M1018.4 841.3v5M1150.2 1266.9v-5M1150.2 841.3v5" stroke="#000" stroke-width="1.6" fill="none"/>
<path d="M754.8 919.0h9M1282.9 919.0h-9M754.8 996.1h9M1282.9 996.1h-9M754.8 1073.2h9M1282.9 1073.2h-9M754.8 1150.4h9M1282.9 1150.4h-9M754.8 1227.5h9M1282.9 1227.5h-9" stroke="#000" stroke-width="1.6" fill="none"/>
<path d="M754.8 880.4h5M1282.9 880.4h-5M754.8 957.5h5M1282.9 957.5h-5M754.8 1034.7h5M1282.9 1034.7h-5M754.8 1111.8h5M1282.9 1111.8h-5M754.8 1189.0h5M1282.9 1189.0h-5" stroke="#000" stroke-width="1.6" fill="none"/>
<text x="820.5" y="1297.6" font-family="Liberation Sans, Arial, Helvetica, sans-serif" font-size="22.3" text-anchor="middle">45</text>
<text x="952.4" y="1297.6" font-family="Liberation Sans, Arial, Helvetica, sans-serif" font-size="22.3" text-anchor="middle">46</text>
<text x="1084.3" y="1297.6" font-family="Liberation Sans, Arial, Helvetica, sans-serif" font-size="22.3" text-anchor="middle">47</text>
<text x="1216.2" y="1297.6" font-family="Liberation Sans, Arial, Helvetica, sans-serif" font-size="22.3" text-anchor="middle">48</text>
<text x="1019" y="1342" font-family="Liberation Sans, Arial, Helvetica, sans-serif" font-size="25" text-anchor="middle">2θ (<tspan dy="-10" font-size="18.5">o</tspan><tspan dy="10">)</tspan></text>
<text transform="translate(734 1055.8) rotate(-90)" font-family="Liberation Sans, Arial, Helvetica, sans-serif" font-size="27.8" text-anchor="middle">Intensity (A.U.)</text>
<line x1="1103.5" y1="883.2" x2="1154.2" y2="883.2" stroke="#440154" stroke-width="3.0"/>
<text x="1166" y="890.8000000000001" font-family="Liberation Sans, Arial, Helvetica, sans-serif" font-size="22">Unstrained</text>
<line x1="1103.5" y1="909.6" x2="1154.2" y2="909.6" stroke="#3b528b" stroke-width="3.0"/>
<text x="1170" y="917.2" font-family="Liberation Sans, Arial, Helvetica, sans-serif" font-size="22">0.6%</text>
<line x1="1103.5" y1="936.4" x2="1154.2" y2="936.4" stroke="#21918c" stroke-width="3.0"/>
<text x="1170" y="944.0" font-family="Liberation Sans, Arial, Helvetica, sans-serif" font-size="22">1.0%</text>
<line x1="1103.5" y1="963.2" x2="1154.2" y2="963.2" stroke="#5ec962" stroke-width="3.0"/>
<text x="1170" y="970.8000000000001" font-family="Liberation Sans, Arial, Helvetica, sans-serif" font-size="22">1.5%</text>
<line x1="1103.5" y1="989.6" x2="1154.2" y2="989.6" stroke="#fde725" stroke-width="3.0"/>
<text x="1170" y="997.2" font-family="Liberation Sans, Arial, Helvetica, sans-serif" font-size="22">2.0%</text>
<text x="1113.2" y="1033.5" font-family="Liberation Sans, Arial, Helvetica, sans-serif" font-size="23.3">Along [010]</text>
<line x1="1426.1" y1="1267.7" x2="1953.6" y2="908.0" stroke="#0c0c6e" stroke-width="2"/>
<rect x="1468.4" y="1229.3" width="11.4" height="11.4" fill="#f6810c"/>
<rect x="1575.8" y="1150.8" width="11.4" height="11.4" fill="#f6810c"/>
<rect x="1659.2" y="1085.4" width="11.4" height="11.4" fill="#f6810c"/>
<rect x="1756.1" y="1046.2" width="11.4" height="11.4" fill="#f6810c"/>
<rect x="1852.0" y="980.8" width="11.4" height="11.4" fill="#f6810c"/>
<rect x="1426.2" y="842.8" width="527.4" height="424.7" fill="none" stroke="#000" stroke-width="1.8"/>
<path d="M1474.1 1267.5v-9.5M1474.1 842.8v9.5M1570.0 1267.5v-9.5M1570.0 842.8v9.5M1665.9 1267.5v-9.5M1665.9 842.8v9.5M1761.8 1267.5v-9.5M1761.8 842.8v9.5M1857.7 1267.5v-9.5M1857.7 842.8v9.5" stroke="#000" stroke-width="1.6" fill="none"/>
<path d="M1522.0 1267.5v-5.5M1522.0 842.8v5.5M1617.9 1267.5v-5.5M1617.9 842.8v5.5M1713.8 1267.5v-5.5M1713.8 842.8v5.5M1809.8 1267.5v-5.5M1809.8 842.8v5.5M1905.6 1267.5v-5.5M1905.6 842.8v5.5" stroke="#000" stroke-width="1.6" fill="none"/>
<path d="M1426.2 1235.0h9.5M1953.6 1235.0h-9.5M1426.2 1169.6h9.5M1953.6 1169.6h-9.5M1426.2 1104.2h9.5M1953.6 1104.2h-9.5M1426.2 1038.8h9.5M1953.6 1038.8h-9.5M1426.2 973.4h9.5M1953.6 973.4h-9.5M1426.2 908.0h9.5M1953.6 908.0h-9.5" stroke="#000" stroke-width="1.6" fill="none"/>
<path d="M1426.2 1202.3h5.5M1953.6 1202.3h-5.5M1426.2 1136.9h5.5M1953.6 1136.9h-5.5M1426.2 1071.5h5.5M1953.6 1071.5h-5.5M1426.2 1006.1h5.5M1953.6 1006.1h-5.5M1426.2 940.7h5.5M1953.6 940.7h-5.5M1426.2 875.3h5.5M1953.6 875.3h-5.5" stroke="#000" stroke-width="1.6" fill="none"/>
<text x="1474.1" y="1297.5" font-family="Liberation Sans, Arial, Helvetica, sans-serif" font-size="22.3" text-anchor="middle">0.0</text>
<text x="1570.0" y="1297.5" font-family="Liberation Sans, Arial, Helvetica, sans-serif" font-size="22.3" text-anchor="middle">0.5</text>
<text x="1665.9" y="1297.5" font-family="Liberation Sans, Arial, Helvetica, sans-serif" font-size="22.3" text-anchor="middle">1.0</text>
<text x="1761.8" y="1297.5" font-family="Liberation Sans, Arial, Helvetica, sans-serif" font-size="22.3" text-anchor="middle">1.5</text>
<text x="1857.7" y="1297.5" font-family="Liberation Sans, Arial, Helvetica, sans-serif" font-size="22.3" text-anchor="middle">2.0</text>
<text x="1953.6" y="1297.5" font-family="Liberation Sans, Arial, Helvetica, sans-serif" font-size="22.3" text-anchor="middle">2.5</text>
<text x="1412.5" y="1242.8" font-family="Liberation Sans, Arial, Helvetica, sans-serif" font-size="22.3" text-anchor="end">0.0</text>
<text x="1412.5" y="1177.4" font-family="Liberation Sans, Arial, Helvetica, sans-serif" font-size="22.3" text-anchor="end">0.5</text>
<text x="1412.5" y="1112.0" font-family="Liberation Sans, Arial, Helvetica, sans-serif" font-size="22.3" text-anchor="end">1.0</text>
<text x="1412.5" y="1046.6" font-family="Liberation Sans, Arial, Helvetica, sans-serif" font-size="22.3" text-anchor="end">1.5</text>
<text x="1412.5" y="981.2" font-family="Liberation Sans, Arial, Helvetica, sans-serif" font-size="22.3" text-anchor="end">2.0</text>
<text x="1412.5" y="915.8" font-family="Liberation Sans, Arial, Helvetica, sans-serif" font-size="22.3" text-anchor="end">2.5</text>
<text x="1412.5" y="850.4" font-family="Liberation Sans, Arial, Helvetica, sans-serif" font-size="22.3" text-anchor="end">3.0</text>
<text x="1689.8" y="1339" font-family="Liberation Sans, Arial, Helvetica, sans-serif" font-size="28" text-anchor="middle">Nominal strain (%)</text>
<text transform="translate(1356.4 1055) rotate(-90)" font-family="Liberation Sans, Arial, Helvetica, sans-serif" font-size="27.2" text-anchor="middle">GIXRD strain (%)</text>
<text x="0.5" y="31" font-family="Liberation Sans, Arial, Helvetica, sans-serif" font-size="41" font-weight="bold">a</text>
<text x="0.5" y="847.8" font-family="Liberation Sans, Arial, Helvetica, sans-serif" font-size="41" font-weight="bold">b</text>
<text x="715" y="847.8" font-family="Liberation Sans, Arial, Helvetica, sans-serif" font-size="41" font-weight="bold">c</text>
<text x="1335.8" y="847.8" font-family="Liberation Sans, Arial, Helvetica, sans-serif" font-size="41" font-weight="bold">d</text>
<text x="480" y="31" font-family="Liberation Sans, Arial, Helvetica, sans-serif" font-size="41" font-weight="bold">e</text>
<text x="1003" y="31" font-family="Liberation Sans, Arial, Helvetica, sans-serif" font-size="41" font-weight="bold">f</text>
<text x="1526.5" y="31" font-family="Liberation Sans, Arial, Helvetica, sans-serif" font-size="41" font-weight="bold">g</text>
<text x="481" y="429.3" font-family="Liberation Sans, Arial, Helvetica, sans-serif" font-size="41" font-weight="bold">h</text>
<text x="1004" y="429.3" font-family="Liberation Sans, Arial, Helvetica, sans-serif" font-size="41" font-weight="bold">i</text>
<text x="1526" y="369.5" font-family="Liberation Sans, Arial, Helvetica, sans-serif" font-size="41" font-weight="bold">j</text>
</svg>
</body>
</html>
